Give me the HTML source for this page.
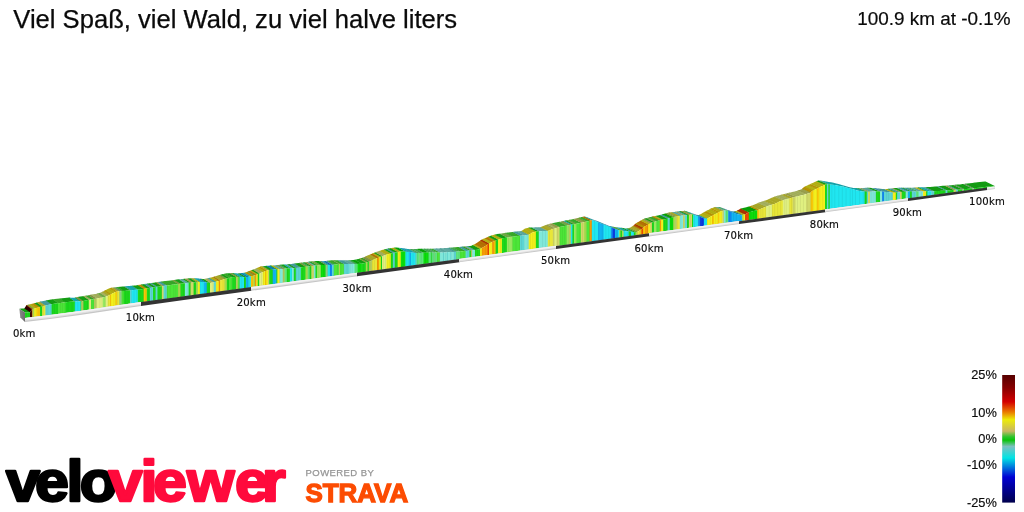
<!DOCTYPE html>
<html lang="de"><head><meta charset="utf-8"><title>Viel Spaß, viel Wald, zu viel halve liters</title>
<style>
html,body{margin:0;padding:0;background:#fff;}
body{width:1024px;height:512px;overflow:hidden;position:relative;font-family:"Liberation Sans",sans-serif;}
svg{position:absolute;left:0;top:0;}
</style></head><body>
<svg width="1024" height="512" viewBox="0 0 1024 512">
<defs>
<linearGradient id="lg" x1="0" y1="0" x2="0.03" y2="1"><stop offset="0" stop-color="#f2f2f2"/><stop offset="1" stop-color="#c4c4c4"/></linearGradient>
<linearGradient id="cap" x1="0" y1="0" x2="1" y2="0"><stop offset="0" stop-color="#8a8a8a"/><stop offset="1" stop-color="#6c6c6c"/></linearGradient>
<linearGradient id="leg" x1="0" y1="0" x2="0" y2="1">
<stop offset="0" stop-color="#560000"/>
<stop offset="0.10" stop-color="#860000"/>
<stop offset="0.21" stop-color="#d40000"/>
<stop offset="0.29" stop-color="#ea7a00"/>
<stop offset="0.35" stop-color="#ecec08"/>
<stop offset="0.44" stop-color="#c8b664"/>
<stop offset="0.485" stop-color="#2cc42c"/>
<stop offset="0.51" stop-color="#08c408"/>
<stop offset="0.56" stop-color="#7cc0c0"/>
<stop offset="0.65" stop-color="#00e4e4"/>
<stop offset="0.80" stop-color="#0000d4"/>
<stop offset="1" stop-color="#00004c"/>
</linearGradient>
</defs>
<text x="13.3" y="27.5" font-family="'Liberation Sans',sans-serif" font-size="25.6" fill="#0a0a0a" stroke="#0a0a0a" stroke-width="0.25">Viel Spaß, viel Wald, zu viel halve liters</text>
<text x="1010.6" y="24.7" text-anchor="end" font-family="'Liberation Sans',sans-serif" font-size="18.9" fill="#0a0a0a" stroke="#0a0a0a" stroke-width="0.2">100.9 km at -0.1%</text>
<g id="topface">
<polygon fill="#149f14" points="25,312.6 27.5,312.5 30,312.3 30.5,311.5 24.9,307.7 24.4,308.5 21.9,308.6 19.4,308.8"/>
<polygon fill="#2c0202" points="30,312.3 32.2,308.9 32.4,308.9 26.8,305.1 26.6,305.1 24.4,308.5"/>
<polygon fill="#ad3302" points="31.9,309.4 32.2,308.9 32.9,308.8 27.3,304.9 26.6,305.1 26.3,305.6"/>
<polygon fill="#7ca23b" points="32.4,308.9 34.6,308.4 29,304.6 26.8,305.1"/>
<polygon fill="#b4b114" points="34.1,308.5 36.6,307.9 37.1,307.8 31.5,304 31,304.1 28.5,304.7"/>
<polygon fill="#b79405" points="36.6,307.9 39.1,307.2 40.5,306.8 34.8,303 33.4,303.4 31,304.1"/>
<polygon fill="#149f14" points="40,307 41,306.7 42.5,306.3 42.8,306.2 37.1,302.4 36.8,302.5 35.3,302.9 34.3,303.2"/>
<polygon fill="#abaa29" points="42.2,306.4 44.8,305.7 45.9,305.4 40.2,301.6 39.1,301.9 36.6,302.6"/>
<polygon fill="#449e9c" points="45.4,305.6 46,305.4 47.9,305 50.4,304.5 51.6,304.2 52.1,304.1 46.4,300.3 45.9,300.4 44.7,300.7 42.2,301.2 40.3,301.6 39.7,301.8"/>
<polygon fill="#149f14" points="51.6,304.2 54.1,303.8 56.6,303.4 57.2,303.2 58.5,303.1 52.8,299.3 51.5,299.4 50.9,299.6 48.4,300 45.9,300.4"/>
<polygon fill="#38aa29" points="58,303.2 60.5,302.9 63,302.6 65.5,302.4 65.9,302.3 60.1,298.5 59.7,298.5 57.3,298.8 54.8,299.1 52.3,299.4"/>
<polygon fill="#149f14" points="65.4,302.4 66,302.3 67.9,302.1 70.4,301.8 72.9,301.6 74.8,301.4 75.2,301.4 69.5,297.6 69,297.6 67.1,297.8 64.6,298 62.1,298.3 60.2,298.5 59.7,298.6"/>
<polygon fill="#17aab1" points="74.8,301.4 77.2,301.5 79.8,301.6 80,301.6 81.1,301.4 75.3,297.6 74.2,297.8 73.9,297.8 71.5,297.7 69,297.6"/>
<polygon fill="#149f14" points="80.6,301.5 81.8,301.3 75.9,297.5 74.8,297.7"/>
<polygon fill="#859645" points="81.2,301.4 83.8,300.8 83.9,300.8 78.1,297 77.9,297 75.4,297.6"/>
<polygon fill="#149f14" points="83.4,300.9 85.9,300.4 86.2,300.3 88.4,300 89.2,299.9 83.4,296.1 82.6,296.2 80.4,296.5 80.1,296.6 77.6,297.1"/>
<polygon fill="#a5b15e" points="88.8,299.9 91.2,299.6 91.5,299.5 85.7,295.7 85.4,295.8 82.9,296.1"/>
<polygon fill="#38aa29" points="91,299.6 92.5,299.4 93.5,299.2 94.5,299 88.6,295.2 87.6,295.4 86.6,295.6 85.2,295.8"/>
<polygon fill="#859645" points="94,299.1 96.5,298.6 97,298.5 91.1,294.7 90.6,294.8 88.1,295.3"/>
<polygon fill="#a5b15e" points="96.5,298.6 97.5,298.4 99,298.1 101.5,297.7 102.5,297.5 103.3,297.3 97.4,293.5 96.6,293.7 95.6,293.9 93.1,294.3 91.6,294.6 90.6,294.8"/>
<polygon fill="#6fab47" points="102.8,297.4 105.3,296.8 106.1,296.6 100.2,292.8 99.4,293 96.9,293.6"/>
<polygon fill="#a5b15e" points="105.6,296.8 106.2,296.6 108.1,295.7 108.3,295.6 102.4,291.7 102.2,291.8 100.3,292.8 99.7,292.9"/>
<polygon fill="#abaa29" points="107.8,295.8 110,294.7 110.3,294.5 110.5,294.4 104.6,290.6 104.4,290.7 104.1,290.9 101.9,292"/>
<polygon fill="#b79405" points="110,294.7 111.5,293.9 105.6,290.1 104.1,290.9"/>
<polygon fill="#b4b114" points="111,294.2 113.5,292.9 113.8,292.8 116,291.9 116.1,291.9 110.2,288.1 110.1,288.1 107.8,289 107.6,289.1 105.1,290.4"/>
<polygon fill="#b79405" points="115.6,292.1 116.9,291.6 117.4,291.5 111.5,287.7 111,287.8 109.7,288.3"/>
<polygon fill="#abaa29" points="116.9,291.6 119.4,291.3 119.9,291.3 113.9,287.4 113.4,287.5 111,287.8"/>
<polygon fill="#679661" points="119.4,291.3 120,291.2 121.9,291.1 122.1,291.1 116.1,287.2 115.9,287.2 114,287.4 113.4,287.5"/>
<polygon fill="#38aa29" points="121.6,291.1 124.1,290.9 124.2,290.8 118.3,287 118.1,287 115.6,287.3"/>
<polygon fill="#149f14" points="123.8,290.9 126.2,290.7 128.8,290.4 130,290.3 130.5,290.3 124.5,286.4 124,286.5 122.8,286.6 120.3,286.8 117.8,287.1"/>
<polygon fill="#449e9c" points="130,290.3 132,290.1 126,286.3 124,286.5"/>
<polygon fill="#17aab1" points="131.5,290.2 134,289.9 136.2,289.7 136.5,289.7 138.3,289.5 132.3,285.7 130.5,285.8 130.2,285.9 128,286.1 125.5,286.3"/>
<polygon fill="#149f14" points="137.8,289.6 140.3,289.3 141.5,289.2 142.8,289 144.1,288.8 138.1,285 136.8,285.2 135.5,285.4 134.3,285.5 131.8,285.7"/>
<polygon fill="#b79405" points="143.6,288.9 146.1,288.5 147.2,288.3 141.2,284.5 140.1,284.7 137.6,285.1"/>
<polygon fill="#149f14" points="146.8,288.4 149.2,288 150.4,287.9 144.3,284 143.2,284.2 140.7,284.6"/>
<polygon fill="#449e9c" points="149.9,287.9 152.4,287.6 153.5,287.4 147.4,283.6 146.3,283.7 143.8,284.1"/>
<polygon fill="#149f14" points="153,287.5 155.5,287.1 155.6,287.1 156,287 149.9,283.2 149.5,283.3 149.4,283.3 146.9,283.7"/>
<polygon fill="#449e9c" points="155.5,287.1 155.6,287.1 157.9,286.8 151.8,282.9 149.5,283.3 149.4,283.3"/>
<polygon fill="#149f14" points="157.4,286.8 159.9,286.5 162.2,286.2 156.1,282.3 153.8,282.7 151.3,283"/>
<polygon fill="#999f4c" points="161.8,286.2 164.1,285.9 158,282.1 155.6,282.4"/>
<polygon fill="#449e9c" points="163.6,286 166.1,285.6 167.2,285.5 161.1,281.6 160,281.8 157.5,282.1"/>
<polygon fill="#38aa29" points="166.8,285.5 169.2,285.2 171.2,284.9 171.8,284.8 174.2,284.5 176.8,284.2 178.5,284 172.3,280.2 170.6,280.4 168.1,280.7 165.6,281 165.1,281.1 163.1,281.3 160.6,281.7"/>
<polygon fill="#7ca23b" points="178,284.1 180.5,283.8 181,283.7 174.8,279.9 174.3,279.9 171.8,280.2"/>
<polygon fill="#149f14" points="180.5,283.8 183,283.5 185.4,283.2 179.2,279.3 176.8,279.6 174.3,279.9"/>
<polygon fill="#5eaba1" points="184.9,283.2 186.9,283 187.4,283 189.1,282.8 182.9,278.9 181.2,279.1 180.7,279.2 178.7,279.4"/>
<polygon fill="#149f14" points="188.6,282.8 191,282.6 184.8,278.8 182.4,279"/>
<polygon fill="#999f4c" points="190.5,282.7 193,282.4 194.1,282.3 187.9,278.5 186.8,278.6 184.3,278.8"/>
<polygon fill="#149f14" points="193.6,282.4 196.1,282.1 196.2,282.1 196.6,282.1 190.4,278.3 190,278.3 189.9,278.3 187.4,278.5"/>
<polygon fill="#7ca23b" points="196.1,282.1 196.2,282.1 198.5,282.1 192.3,278.3 190,278.3 189.9,278.3"/>
<polygon fill="#b4b114" points="198,282.1 200.4,282.1 194.1,278.3 191.8,278.3"/>
<polygon fill="#17aab1" points="199.9,282.1 202.4,282.1 203,282.1 204.5,282.3 198.2,278.5 196.7,278.3 196.1,278.3 193.7,278.3"/>
<polygon fill="#0d85b3" points="204,282.3 206.5,282.5 207.3,282.6 201,278.8 200.2,278.7 197.7,278.4"/>
<polygon fill="#149f14" points="206.8,282.5 209.3,282.8 210.2,282.9 210.5,282.8 204.2,279 204,279.1 203,279 200.5,278.7"/>
<polygon fill="#a5b15e" points="210,282.9 210.2,282.9 212.5,282.4 214.2,282.1 207.9,278.2 206.2,278.6 204,279.1 203.7,279"/>
<polygon fill="#449e9c" points="213.7,282.2 216.2,281.7 216.4,281.6 210.1,277.8 209.9,277.8 207.4,278.3"/>
<polygon fill="#b4b114" points="215.9,281.7 216.5,281.6 218.4,281 219.2,280.8 212.9,277 212.1,277.2 210.2,277.8 209.6,277.9"/>
<polygon fill="#b57104" points="218.7,281 219.6,280.7 220.5,280.4 214.2,276.6 213.3,276.9 212.4,277.1"/>
<polygon fill="#abaa29" points="220,280.6 222.5,279.8 225,279.1 225.1,279 218.8,275.2 218.7,275.2 216.2,276 213.7,276.7"/>
<polygon fill="#7ca23b" points="224.6,279.2 225.9,278.8 227.1,278.5 227.3,278.4 220.9,274.6 220.7,274.7 219.6,275 218.3,275.3"/>
<polygon fill="#149f14" points="226.8,278.6 229.3,277.9 229.5,277.9 223.1,274.1 222.9,274.1 220.5,274.7"/>
<polygon fill="#38aa29" points="229,278 231.5,277.4 232.1,277.2 232.6,277.2 226.2,273.4 225.7,273.4 225.1,273.6 222.6,274.2"/>
<polygon fill="#149f14" points="232.1,277.2 234.6,277.1 236.4,277 230,273.2 228.2,273.3 225.7,273.4"/>
<polygon fill="#859645" points="235.9,277 238.2,276.9 231.9,273.1 229.5,273.2"/>
<polygon fill="#38aa29" points="237.8,276.9 238.4,276.9 240.1,277 233.7,273.1 232,273 231.4,273.1"/>
<polygon fill="#17aab1" points="239.6,277 242.1,277.1 244.5,277.2 238.1,273.4 235.7,273.3 233.2,273.1"/>
<polygon fill="#149f14" points="244,277.2 244.6,277.2 246.4,277.1 240,273.2 238.2,273.4 237.6,273.4"/>
<polygon fill="#0d85b3" points="245.9,277.1 248.4,276.9 249,276.8 242.6,272.9 242,273 239.5,273.3"/>
<polygon fill="#17aab1" points="248.5,276.8 250.9,276.6 251,276.6 251.4,276.4 245,272.6 244.6,272.7 244.5,272.7 242.1,273"/>
<polygon fill="#b79405" points="250.9,276.6 253.4,275.7 253.9,275.5 247.5,271.7 247,271.9 244.5,272.7"/>
<polygon fill="#7ca23b" points="253.4,275.7 255.4,275 248.9,271.1 247,271.9"/>
<polygon fill="#b57104" points="254.9,275.2 256.7,274.5 250.2,270.7 248.4,271.3"/>
<polygon fill="#b4b114" points="256.2,274.7 257.1,274.4 258.2,273.9 251.8,270.1 250.6,270.5 249.7,270.9"/>
<polygon fill="#149f14" points="257.8,274.1 259.8,273.3 253.3,269.5 251.3,270.3"/>
<polygon fill="#a5b15e" points="259.3,273.5 261.8,272.5 263.2,272 256.8,268.1 255.3,268.7 252.8,269.7"/>
<polygon fill="#b4b114" points="262.8,272.2 263.4,271.9 265.2,271.2 265.5,271.1 259,267.2 258.8,267.3 256.9,268 256.3,268.3"/>
<polygon fill="#b79405" points="265,271.3 267,270.5 260.5,266.6 258.5,267.4"/>
<polygon fill="#b4b114" points="266.5,270.7 267.8,270.2 268.5,270.1 262,266.3 261.2,266.3 260,266.8"/>
<polygon fill="#999f4c" points="268,270.2 269.8,270 263.2,266.2 261.5,266.3"/>
<polygon fill="#149f14" points="269.2,270.1 271.8,269.8 273.2,269.7 266.7,265.8 265.2,266 262.7,266.2"/>
<polygon fill="#0d85b3" points="272.7,269.7 274.2,269.6 275.2,269.5 276.9,269.5 270.4,265.6 268.7,265.7 267.7,265.7 266.2,265.9"/>
<polygon fill="#149f14" points="276.4,269.5 277.9,269.4 271.4,265.5 269.9,265.6"/>
<polygon fill="#b4b114" points="277.4,269.4 279.9,269.3 280.1,269.3 273.6,265.4 273.4,265.4 270.9,265.6"/>
<polygon fill="#5eaba1" points="279.6,269.3 280.5,269.2 282.1,269.1 283.2,269 276.6,265.1 275.5,265.2 274,265.4 273.1,265.4"/>
<polygon fill="#859645" points="282.7,269 285.1,268.8 278.5,264.9 276.1,265.2"/>
<polygon fill="#44aa5b" points="284.6,268.8 286.8,268.6 287.1,268.6 287.2,268.6 280.7,264.7 280.5,264.7 280.2,264.7 278,265"/>
<polygon fill="#149f14" points="286.8,268.6 289.2,268.5 290.4,268.4 283.8,264.6 282.7,264.6 280.2,264.7"/>
<polygon fill="#17aab1" points="289.9,268.4 292.4,268.3 292.5,268.3 285.9,264.5 285.8,264.5 283.3,264.6"/>
<polygon fill="#5eaba1" points="292,268.3 293,268.3 294.4,268.2 287.8,264.3 286.4,264.4 285.4,264.5"/>
<polygon fill="#149f14" points="293.9,268.2 296.3,268 289.7,264.1 287.3,264.4"/>
<polygon fill="#449e9c" points="295.8,268 298.3,267.8 299.2,267.7 300.8,267.5 301.3,267.4 294.7,263.5 294.2,263.6 292.6,263.8 291.7,263.9 289.2,264.2"/>
<polygon fill="#149f14" points="300.8,267.5 303.3,267.1 305.5,266.8 305.8,266.7 306,266.7 299.4,262.8 299.2,262.9 298.9,262.9 296.7,263.2 294.2,263.6"/>
<polygon fill="#7ca23b" points="305.5,266.8 308,266.5 308.2,266.5 301.5,262.6 301.3,262.6 298.9,262.9"/>
<polygon fill="#44aa5b" points="307.7,266.5 310.1,266.3 303.4,262.4 301.1,262.7"/>
<polygon fill="#149f14" points="309.6,266.3 311.8,266.1 311.9,266.1 305.2,262.2 305.1,262.2 302.9,262.5"/>
<polygon fill="#999f4c" points="311.4,266.1 311.8,266.1 313.9,265.8 314.4,265.7 307.7,261.9 307.2,261.9 305.1,262.2 304.7,262.3"/>
<polygon fill="#5eaba1" points="313.9,265.8 316,265.5 309.3,261.6 307.2,261.9"/>
<polygon fill="#149f14" points="315.5,265.6 317.5,265.3 310.8,261.4 308.8,261.7"/>
<polygon fill="#6fab47" points="317,265.3 318,265.2 319.5,265.1 321.3,265 314.6,261.2 312.8,261.3 311.3,261.3 310.3,261.5"/>
<polygon fill="#08a408" points="320.8,265.1 323.3,264.9 324.2,264.9 325.8,264.9 326,265 319.3,261.1 319.1,261.1 317.5,261 316.6,261.1 314.1,261.2"/>
<polygon fill="#679661" points="325.5,264.9 328,265 328.2,265 321.5,261.1 321.3,261.1 318.8,261.1"/>
<polygon fill="#17aab1" points="327.7,265 330.2,265.1 330.4,265.1 323.7,261.2 323.5,261.2 321,261.1"/>
<polygon fill="#0b64b1" points="329.9,265.1 331,265.1 332.4,264.9 332.5,264.9 325.8,261 325.7,261 324.3,261.2 323.2,261.2"/>
<polygon fill="#449e9c" points="332,265 334.4,264.6 327.7,260.8 325.3,261.1"/>
<polygon fill="#38aa29" points="333.9,264.7 336.4,264.4 338.2,264.1 338.9,264.1 339.4,264.1 332.6,260.2 332.1,260.2 331.5,260.2 329.6,260.5 327.2,260.8"/>
<polygon fill="#859645" points="338.9,264.1 340.5,264.1 333.7,260.2 332.1,260.2"/>
<polygon fill="#38aa29" points="340,264.1 342.5,264.1 344.4,264.1 337.6,260.2 335.7,260.2 333.2,260.2"/>
<polygon fill="#449e9c" points="343.9,264.1 344.5,264.1 346.4,264.1 348.9,264.1 350,264.1 343.2,260.2 342.1,260.2 339.6,260.2 337.7,260.2 337.1,260.2"/>
<polygon fill="#5eaba1" points="349.5,264.1 350.8,264.1 352,264.1 354.5,264.1 355,264.1 348.2,260.2 347.7,260.2 345.2,260.2 343.9,260.2 342.7,260.2"/>
<polygon fill="#44aa5b" points="354.5,264.1 357,264.1 358.1,264 351.3,260.1 350.2,260.2 347.7,260.2"/>
<polygon fill="#08a408" points="357.6,264 360.1,263.8 361.9,263.6 355,259.7 353.3,259.9 350.8,260.2"/>
<polygon fill="#149f14" points="361.4,263.6 363.2,263.4 363.9,263.2 366.2,262.5 359.4,258.7 357,259.3 356.4,259.5 354.6,259.7"/>
<polygon fill="#7ca23b" points="365.8,262.7 368.1,262 361.2,258.1 358.9,258.8"/>
<polygon fill="#149f14" points="367.6,262.1 369.4,261.6 362.5,257.7 360.7,258.3"/>
<polygon fill="#859645" points="368.9,261.8 369.5,261.6 371.4,260.7 372.5,260.2 365.6,256.4 364.5,256.9 362.6,257.7 362,257.9"/>
<polygon fill="#abaa29" points="372,260.5 374.5,259.3 375.8,258.8 377,258.2 377.5,258.1 370.6,254.2 370.1,254.4 368.8,254.9 367.6,255.4 365.1,256.6"/>
<polygon fill="#b57104" points="377,258.2 379.4,257.3 372.5,253.4 370.1,254.4"/>
<polygon fill="#b4b114" points="378.9,257.5 381.2,256.6 374.3,252.7 372,253.6"/>
<polygon fill="#149f14" points="380.8,256.8 382,256.2 382.5,256.1 375.6,252.2 375.1,252.4 373.8,252.9"/>
<polygon fill="#a5b15e" points="382,256.2 384.5,255.4 386.9,254.6 380,250.7 377.6,251.5 375.1,252.4"/>
<polygon fill="#b4b114" points="386.4,254.7 388.2,254.1 388.9,253.9 391.2,253.4 384.3,249.5 381.9,250.1 381.3,250.2 379.5,250.9"/>
<polygon fill="#149f14" points="390.8,253.5 393.2,252.9 393.4,252.9 386.4,249 386.3,249 383.8,249.6"/>
<polygon fill="#449e9c" points="392.9,253 395,252.5 395.3,252.5 388.3,248.6 388,248.6 385.9,249.1"/>
<polygon fill="#149f14" points="394.8,252.5 395,252.5 397.3,252.2 398.1,252 391.1,248.1 390.3,248.3 388,248.6 387.8,248.7"/>
<polygon fill="#b4b114" points="397.6,252.1 400.1,251.7 401.2,251.6 394.2,247.7 393.1,247.8 390.6,248.2"/>
<polygon fill="#08a408" points="400.7,251.6 402.2,251.4 403.2,251.5 405.7,251.7 405.9,251.8 398.9,247.9 398.7,247.8 396.2,247.6 395.2,247.5 393.7,247.7"/>
<polygon fill="#17aab1" points="405.4,251.7 407.9,251.9 408.5,252 409.6,252.2 402.6,248.3 401.5,248.1 400.9,248.1 398.4,247.8"/>
<polygon fill="#0d85b3" points="409.1,252.1 411.5,252.4 404.5,248.5 402.1,248.2"/>
<polygon fill="#17aab1" points="411,252.4 413.5,252.7 414.8,252.9 415.9,252.9 408.8,249 407.7,249 406.5,248.8 404,248.5"/>
<polygon fill="#449e9c" points="415.4,252.9 417.1,252.9 410,249 408.4,249"/>
<polygon fill="#44aa5b" points="416.6,252.9 419.1,252.9 419.5,252.9 412.4,249 412,249 409.5,249"/>
<polygon fill="#679661" points="419,252.9 420.1,252.9 413,249 411.9,249"/>
<polygon fill="#44aa5b" points="419.6,252.9 421,252.9 422.1,252.8 424,252.8 416.9,248.9 415,249 413.9,249 412.5,249"/>
<polygon fill="#08a408" points="423.5,252.8 426,252.7 427.2,252.6 428.5,252.6 429,252.6 421.9,248.7 421.4,248.7 420.2,248.7 418.9,248.8 416.4,248.9"/>
<polygon fill="#44aa5b" points="428.5,252.6 431,252.6 431.5,252.6 424.4,248.7 423.9,248.7 421.4,248.7"/>
<polygon fill="#149f14" points="431,252.6 432.1,252.6 425,248.7 423.9,248.7"/>
<polygon fill="#44aa5b" points="431.6,252.6 433.5,252.6 434.1,252.6 434.5,252.6 427.4,248.7 427,248.7 426.4,248.7 424.5,248.7"/>
<polygon fill="#679661" points="434,252.6 435.1,252.6 428,248.7 426.9,248.7"/>
<polygon fill="#44aa5b" points="434.6,252.6 437.1,252.6 437.5,252.6 430.4,248.7 430,248.7 427.5,248.7"/>
<polygon fill="#38aa29" points="437,252.6 439.5,252.6 439.8,252.6 440.2,252.6 433.1,248.7 432.6,248.7 432.4,248.7 429.9,248.7"/>
<polygon fill="#5eaba1" points="439.8,252.6 442.2,252.5 443.5,252.4 436.3,248.5 435.1,248.6 432.6,248.7"/>
<polygon fill="#449e9c" points="443,252.4 444.1,252.4 436.9,248.5 435.8,248.5"/>
<polygon fill="#5eaba1" points="443.6,252.4 446,252.3 446.1,252.3 447.5,252.2 440.3,248.3 438.9,248.4 438.8,248.4 436.4,248.5"/>
<polygon fill="#449e9c" points="447,252.3 448.1,252.2 440.9,248.3 439.8,248.4"/>
<polygon fill="#5eaba1" points="447.6,252.2 450.1,252.1 451,252.1 443.8,248.2 442.9,248.2 440.4,248.3"/>
<polygon fill="#449e9c" points="450.5,252.1 451.6,252 444.4,248.1 443.3,248.2"/>
<polygon fill="#5eaba1" points="451.1,252.1 452.2,252 453.6,251.9 454.5,251.8 447.3,247.9 446.4,248 445.1,248.1 443.9,248.2"/>
<polygon fill="#449e9c" points="454,251.9 456.5,251.7 449.3,247.8 446.8,248"/>
<polygon fill="#44aa5b" points="456,251.7 458.5,251.5 459,251.5 460.5,251.4 453.3,247.5 451.8,247.6 451.3,247.6 448.8,247.8"/>
<polygon fill="#38aa29" points="460,251.4 462.5,251.2 465,251 466.1,250.9 458.9,247 457.8,247.1 455.3,247.3 452.8,247.5"/>
<polygon fill="#449e9c" points="465.6,251 466.2,250.9 468.1,250.7 469.9,250.5 462.6,246.6 460.9,246.8 459,247 458.4,247.1"/>
<polygon fill="#149f14" points="469.4,250.6 471.5,250.4 464.2,246.5 462.2,246.7"/>
<polygon fill="#859645" points="471,250.4 472.5,250.2 472.7,250.2 465.4,246.4 465.2,246.4 463.7,246.5"/>
<polygon fill="#5eaba1" points="472.2,250.3 472.5,250.2 474.7,250 475.5,249.9 468.2,246.1 467.4,246.1 465.2,246.4 464.9,246.4"/>
<polygon fill="#149f14" points="475,250 477.5,249.7 478.8,249.6 480,249 480.5,248.8 473.2,244.9 472.7,245.1 471.5,245.7 470.2,245.9 467.7,246.1"/>
<polygon fill="#b4b114" points="480,249 481.9,248.1 482.4,247.8 475.1,243.9 474.6,244.2 472.7,245.1"/>
<polygon fill="#b57104" points="481.9,248.1 484.4,246.6 485,246.2 486.9,244.9 488,244.1 480.7,240.2 479.6,241 477.7,242.3 477.1,242.7 474.6,244.2"/>
<polygon fill="#ad3302" points="487.5,244.4 488.1,244 489.5,243.3 482.2,239.4 480.8,240.1 480.2,240.6"/>
<polygon fill="#b4b114" points="489,243.5 491.2,242.4 491.5,242.3 492.7,241.8 485.4,238 484.2,238.4 483.9,238.5 481.7,239.7"/>
<polygon fill="#b57104" points="492.2,242 494.5,241.1 487.2,237.2 484.9,238.2"/>
<polygon fill="#b79405" points="494,241.3 495,240.9 496.1,240.4 488.8,236.6 487.7,237 486.7,237.4"/>
<polygon fill="#149f14" points="495.6,240.6 498.1,239.6 498.6,239.4 491.2,235.5 490.7,235.7 488.3,236.8"/>
<polygon fill="#b4b114" points="498.1,239.6 498.8,239.3 500.6,238.9 502.4,238.4 495,234.6 493.2,235 491.4,235.4 490.7,235.7"/>
<polygon fill="#149f14" points="501.9,238.5 503.8,238.1 504.4,238 506.9,237.6 507.4,237.5 500,233.7 499.5,233.7 497,234.1 496.4,234.2 494.5,234.7"/>
<polygon fill="#6fab47" points="506.9,237.6 509.4,237.2 510,237.1 511.9,236.8 513,236.7 505.6,232.8 504.5,233 502.6,233.3 502,233.4 499.5,233.7"/>
<polygon fill="#38aa29" points="512.5,236.7 515,236.4 516.2,236.2 517.5,236.1 520,235.8 520.5,235.7 513.1,231.9 512.6,231.9 510.1,232.2 508.8,232.4 507.6,232.5 505.1,232.9"/>
<polygon fill="#449e9c" points="520,235.8 522.5,235.5 523,235.4 524.5,235.2 517,231.4 515.6,231.6 515.1,231.6 512.6,231.9"/>
<polygon fill="#5eaba1" points="524,235.3 526.5,235.1 529,234.8 529.2,234.7 521.7,230.8 521.5,231 519,231.2 516.5,231.5"/>
<polygon fill="#b4b114" points="528.7,234.8 529,234.8 531.2,233.2 532.1,232.6 533.7,232.2 536.2,231.5 536.4,231.4 528.9,227.6 528.7,227.7 526.2,228.3 524.6,228.8 523.7,229.4 521.5,231 521.2,231"/>
<polygon fill="#149f14" points="535.9,231.6 536.5,231.4 538.4,231.3 539.2,231.3 531.7,227.5 530.9,227.5 529,227.6 528.4,227.7"/>
<polygon fill="#5eaba1" points="538.7,231.3 541.2,231.2 542.8,231.1 543.7,231.1 546.2,231.1 547.8,231.1 548.2,230.9 540.7,227.1 540.2,227.3 538.7,227.3 536.2,227.3 535.2,227.3 533.7,227.4 531.2,227.5"/>
<polygon fill="#abaa29" points="547.8,231.1 550.2,230 552.1,229.2 552.8,229 553.2,228.9 545.7,225 545.2,225.2 544.5,225.4 542.7,226.2 540.2,227.3"/>
<polygon fill="#999f4c" points="552.8,229 555.1,228.3 547.5,224.5 545.2,225.2"/>
<polygon fill="#a5b15e" points="554.6,228.4 557,227.7 549.4,223.9 547,224.6"/>
<polygon fill="#999f4c" points="556.5,227.9 558.4,227.3 559,227.2 560.1,227 552.5,223.2 551.4,223.4 550.8,223.5 548.9,224.1"/>
<polygon fill="#38aa29" points="559.6,227.1 562.1,226.6 564.6,226.1 567,225.6 559.4,221.8 557,222.3 554.5,222.8 552,223.3"/>
<polygon fill="#6fab47" points="566.5,225.7 569,225.2 569.5,225.1 561.9,221.3 561.4,221.4 558.9,221.9"/>
<polygon fill="#859645" points="569,225.2 570.9,224.8 571.4,224.7 563.8,220.9 563.3,221 561.4,221.4"/>
<polygon fill="#17aab1" points="570.9,224.8 572.9,224.4 565.3,220.6 563.3,221"/>
<polygon fill="#149f14" points="572.4,224.5 574.5,224.1 566.9,220.3 564.8,220.7"/>
<polygon fill="#6fab47" points="574,224.2 576.5,223.7 577,223.6 569.4,219.8 568.9,219.9 566.4,220.4"/>
<polygon fill="#38aa29" points="576.5,223.7 577.1,223.6 579,223.2 581.4,222.7 573.7,218.9 571.3,219.4 569.5,219.8 568.9,219.9"/>
<polygon fill="#999f4c" points="580.9,222.8 583.4,222.3 584.5,222 576.8,218.3 575.7,218.5 573.2,219"/>
<polygon fill="#7ca23b" points="584,222.2 586.5,221.5 587,221.4 579.3,217.6 578.8,217.8 576.3,218.4"/>
<polygon fill="#38aa29" points="586.5,221.5 587.9,221.2 589,220.9 590.1,220.6 582.4,216.9 581.3,217.1 580.2,217.4 578.8,217.8"/>
<polygon fill="#b57104" points="589.6,220.8 591.8,220.2 592.1,220.3 592.2,220.3 584.5,216.6 584.4,216.5 584,216.4 581.9,217"/>
<polygon fill="#17aab1" points="591.8,220.2 594.2,220.8 596.8,221.8 598.5,222.5 590.8,218.7 589,218 586.5,217 584,216.4"/>
<polygon fill="#0d85b3" points="598,222.3 600.5,223.3 603,224.2 604.1,224.6 596.4,220.8 595.3,220.4 592.8,219.5 590.3,218.5"/>
<polygon fill="#17aab1" points="603.6,224.4 606.1,225.3 606.8,225.5 608.6,226.3 609.1,226.5 601.3,222.8 600.8,222.6 599,221.7 598.3,221.5 595.9,220.6"/>
<polygon fill="#17aab1" points="608.6,226.3 611.1,227.4 611.6,227.6 603.8,223.9 603.3,223.7 600.8,222.6"/>
<polygon fill="#0b64b1" points="611.1,227.4 611.8,227.7 613.2,228.3 605.4,224.6 604,224 603.3,223.7"/>
<polygon fill="#0829a5" points="612.7,228.1 615.2,229.2 615.4,229.3 607.6,225.5 607.4,225.5 604.9,224.4"/>
<polygon fill="#0d85b3" points="614.9,229.1 616.1,229.6 617.4,229.8 618.5,230.1 610.7,226.3 609.6,226.1 608.3,225.9 607.1,225.3"/>
<polygon fill="#17aab1" points="618,230 619.8,230.3 611.9,226.6 610.2,226.2"/>
<polygon fill="#7ca23b" points="619.2,230.2 621,230.5 613.2,226.8 611.4,226.5"/>
<polygon fill="#149f14" points="620.5,230.4 622.4,230.8 622.5,230.8 614.7,227.1 614.6,227.1 612.7,226.7"/>
<polygon fill="#7ca23b" points="622,230.7 622.4,230.8 624.1,231 616.3,227.2 614.6,227.1 614.2,227"/>
<polygon fill="#17aab1" points="623.6,230.9 626.1,231.2 628.6,231.4 629.1,231.5 621.3,227.7 620.8,227.7 618.3,227.4 615.8,227.2"/>
<polygon fill="#149f14" points="628.6,231.4 631.1,231.7 631.6,231.8 623.7,228.1 623.3,228 620.8,227.7"/>
<polygon fill="#17aab1" points="631.1,231.7 633.6,232.1 634.4,232.2 626.5,228.5 625.7,228.4 623.3,228"/>
<polygon fill="#149f14" points="633.9,232.2 634.9,232.3 636,232 628.1,228.3 627,228.6 626,228.4"/>
<polygon fill="#7ca23b" points="635.5,232.2 637.9,231.5 630,227.8 627.6,228.4"/>
<polygon fill="#abaa29" points="637.4,231.6 638,231.5 639.9,230.2 641,229.5 633.1,225.8 632,226.5 630.1,227.7 629.5,227.9"/>
<polygon fill="#b57104" points="640.5,229.8 641.1,229.4 642.2,228.4 634.4,224.7 633.2,225.7 632.6,226.1"/>
<polygon fill="#ad3302" points="641.8,228.9 643.5,227.4 635.6,223.7 633.9,225.1"/>
<polygon fill="#b79405" points="643,227.8 644.2,226.8 645.4,226.1 637.5,222.4 636.4,223 635.1,224.1"/>
<polygon fill="#b57104" points="644.9,226.4 647.4,224.9 648.8,224.2 640.9,220.5 639.5,221.2 637,222.7"/>
<polygon fill="#b4b114" points="648.3,224.5 650.5,223.3 650.7,223.2 642.8,219.5 642.6,219.6 640.4,220.8"/>
<polygon fill="#999f4c" points="650.2,223.5 650.5,223.3 652,222.5 652.5,222.4 644.6,218.6 644.1,218.8 642.6,219.6 642.3,219.7"/>
<polygon fill="#149f14" points="652,222.5 654.4,221.8 646.5,218.1 644.1,218.8"/>
<polygon fill="#6fab47" points="653.9,222 656.4,221.2 656.9,221.1 649,217.4 648.5,217.5 646,218.2"/>
<polygon fill="#38aa29" points="656.4,221.2 658.2,220.7 658.9,220.6 660.3,220.3 652.3,216.6 650.9,216.9 650.3,217 648.5,217.5"/>
<polygon fill="#b57104" points="659.8,220.4 661.5,220 653.5,216.3 651.8,216.7"/>
<polygon fill="#b4b114" points="661,220.1 663.5,219.6 663.8,219.6 655.8,215.9 655.5,215.9 653,216.4"/>
<polygon fill="#149f14" points="663.2,219.7 664.5,219.4 665.8,219.1 668.1,218.6 660.1,214.9 657.8,215.4 656.5,215.7 655.3,216"/>
<polygon fill="#449e9c" points="667.6,218.7 670.1,218.1 670.3,218 662.3,214.3 662.1,214.4 659.6,215"/>
<polygon fill="#08a408" points="669.8,218.1 670.8,217.9 672.3,217.5 673.8,217.1 665.7,213.4 664.3,213.8 662.8,214.2 661.8,214.4"/>
<polygon fill="#7ca23b" points="673.2,217.3 675.6,216.7 667.6,213 665.2,213.6"/>
<polygon fill="#859645" points="675.1,216.8 677,216.3 677.2,216.3 669.2,212.6 669,212.6 667.1,213.1"/>
<polygon fill="#abaa29" points="676.7,216.4 677,216.3 679.2,216 680.3,215.8 672.3,212.1 671.2,212.3 669,212.6 668.7,212.7"/>
<polygon fill="#5eaba1" points="679.8,215.9 682.3,215.5 683.2,215.4 683.5,215.4 675.5,211.7 675.2,211.7 674.3,211.9 671.8,212.2"/>
<polygon fill="#999f4c" points="683,215.4 683.2,215.4 685.3,215.2 677.2,211.5 675.2,211.7 675,211.8"/>
<polygon fill="#449e9c" points="684.8,215.3 687.3,215 687.5,215 679.4,211.3 679.2,211.3 676.8,211.6"/>
<polygon fill="#149f14" points="687,215 689.4,214.8 681.3,211.1 678.9,211.4"/>
<polygon fill="#999f4c" points="688.9,214.9 689.5,214.8 691.4,214.6 692.5,214.5 684.4,210.8 683.3,210.9 681.4,211.1 680.8,211.2"/>
<polygon fill="#149f14" points="692,214.5 692.6,214.4 693.8,214.8 685.7,211.1 684.5,210.8 683.9,210.8"/>
<polygon fill="#17aab1" points="693.2,214.6 695.8,215.4 698.2,216.2 698.8,216.4 690.6,212.7 690.2,212.5 687.7,211.7 685.2,211"/>
<polygon fill="#0b64b1" points="698.2,216.2 699.5,216.6 700.6,217.1 692.5,213.4 691.4,212.9 690.2,212.5"/>
<polygon fill="#0829a5" points="700.1,216.9 702.6,217.9 703.9,218.5 704.4,218.5 696.3,214.9 695.8,214.8 694.5,214.3 692,213.2"/>
<polygon fill="#17aab1" points="703.9,218.5 706.4,218.7 707,218.8 707.5,218.5 699.4,214.8 698.9,215.1 698.3,215.1 695.8,214.8"/>
<polygon fill="#b4b114" points="707,218.8 709.5,217.3 710.8,216.6 712,215.9 712.5,215.7 704.3,212 703.8,212.3 702.6,212.9 701.4,213.7 698.9,215.1"/>
<polygon fill="#b79405" points="712,215.9 714.5,214.6 706.3,210.9 703.8,212.3"/>
<polygon fill="#b4b114" points="714,214.8 715,214.3 716.5,213.5 718.4,212.5 710.2,208.9 708.3,209.9 706.8,210.6 705.8,211.2"/>
<polygon fill="#b79405" points="717.9,212.8 719.8,211.8 719.9,211.7 711.7,208.1 711.6,208.2 709.7,209.1"/>
<polygon fill="#b4b114" points="719.4,212 719.8,211.8 721.9,211.1 722.8,210.8 714.6,207.1 713.7,207.4 711.6,208.2 711.2,208.3"/>
<polygon fill="#999f4c" points="722.2,210.9 723.5,210.5 724.3,210.5 716.1,206.9 715.3,206.9 714.1,207.3"/>
<polygon fill="#5eaba1" points="723.8,210.5 725.9,210.6 717.7,207 715.6,206.9"/>
<polygon fill="#44aa5b" points="725.4,210.6 727.9,210.8 728.5,210.8 728.7,210.9 720.5,207.2 720.3,207.2 719.7,207.1 717.2,207"/>
<polygon fill="#0b64b1" points="728.2,210.8 728.5,210.8 730.7,211.7 732.1,212.2 723.9,208.6 722.5,208 720.3,207.2 720,207.1"/>
<polygon fill="#0d85b3" points="731.6,212 734.1,213 734.8,213.3 736.6,213.9 737.1,214 728.9,210.4 728.4,210.2 726.5,209.7 725.9,209.4 723.4,208.4"/>
<polygon fill="#0d85b3" points="736.6,213.9 739.1,214.6 741,215.2 741.6,215.1 742.5,215 734.2,211.3 733.3,211.5 732.7,211.6 730.8,211 728.4,210.2"/>
<polygon fill="#7ca23b" points="742,215 744,214.7 735.7,211.1 733.7,211.4"/>
<polygon fill="#b4b114" points="743.5,214.8 744.8,214.6 745.5,214.2 737.2,210.5 736.5,211 735.2,211.2"/>
<polygon fill="#ad3302" points="745,214.5 747.5,213 748.5,212.4 749.3,212.2 741,208.6 740.2,208.8 739.2,209.4 736.7,210.8"/>
<polygon fill="#08a408" points="748.8,212.3 751.3,211.7 753.5,211.1 753.8,211 756.3,210.4 757.2,210.2 757.8,210 749.4,206.4 748.9,206.6 748,206.8 745.5,207.4 745.2,207.5 743,208.1 740.5,208.7"/>
<polygon fill="#b79405" points="757.2,210.2 759.6,209.3 751.3,205.7 748.9,206.6"/>
<polygon fill="#abaa29" points="759.1,209.5 761.6,208.5 762.9,208 764.1,207.5 766.5,206.5 758.1,202.9 755.8,203.9 754.6,204.4 753.3,204.9 750.8,205.9"/>
<polygon fill="#a5b15e" points="766,206.8 768.5,205.7 769.1,205.5 771,204.9 772.5,204.5 764.1,200.9 762.6,201.3 760.7,201.9 760.1,202.1 757.6,203.1"/>
<polygon fill="#abaa29" points="772,204.6 774.5,203.9 775.4,203.6 776.5,203 768.1,199.5 767,200 766.1,200.3 763.6,201"/>
<polygon fill="#abaa29" points="776,203.3 778.5,202 780,201.3 781,201 783.3,200.2 774.9,196.6 772.6,197.4 771.6,197.7 770.1,198.5 767.6,199.7"/>
<polygon fill="#a5b15e" points="782.8,200.4 784.9,199.7 776.5,196.1 774.4,196.8"/>
<polygon fill="#a5b15e" points="784.4,199.8 786.2,199.2 786.9,199 789.4,198.4 789.9,198.3 781.5,194.7 781,194.8 778.5,195.4 777.8,195.6 776,196.2"/>
<polygon fill="#abaa29" points="789.4,198.4 791.9,197.7 792.5,197.6 793,197.5 784.5,193.9 784.1,194 783.5,194.2 781,194.8"/>
<polygon fill="#999f4c" points="792.5,197.6 795,197 796.1,196.7 787.6,193.1 786.5,193.4 784.1,194"/>
<polygon fill="#a5b15e" points="795.6,196.8 798.1,196.2 798.8,196.1 800.6,195.6 803.1,194.9 805,194.4 805.6,194.3 806.8,193.9 798.2,190.3 797.1,190.7 796.5,190.9 794.6,191.4 792.1,192 790.3,192.5 789.6,192.6 787.1,193.3"/>
<polygon fill="#999f4c" points="806.2,194 808.8,193.3 810,192.9 811.1,191.9 802.6,188.4 801.5,189.3 800.2,189.7 797.7,190.5"/>
<polygon fill="#b79405" points="810.6,192.4 812.5,190.7 813.1,190.4 813.6,190.1 805.1,186.6 804.6,186.8 804,187.1 802.1,188.8"/>
<polygon fill="#b4b114" points="813.1,190.4 815.6,189.2 816.2,188.9 817.4,188.3 808.9,184.8 807.7,185.3 807.1,185.6 804.6,186.8"/>
<polygon fill="#b79405" points="816.9,188.6 819.2,187.5 810.7,183.9 808.4,185"/>
<polygon fill="#b4b114" points="818.8,187.7 820.6,186.8 821.2,186.5 823.8,185.4 825,184.8 825.5,184.6 816.9,181.1 816.4,181.3 815.2,181.8 812.7,183 812,183.3 810.2,184.1"/>
<polygon fill="#149f14" points="825,184.8 826.9,184 827.4,184.1 818.8,180.5 818.3,180.5 816.4,181.3"/>
<polygon fill="#449e9c" points="826.9,184 828.9,184.3 820.3,180.7 818.3,180.5"/>
<polygon fill="#149f14" points="828.4,184.2 830,184.4 830.2,184.4 821.6,180.9 821.4,180.8 819.8,180.6"/>
<polygon fill="#17aab1" points="829.7,184.4 830,184.4 832.2,184.7 834.7,185 836.2,185.2 837.2,185.4 839.7,185.9 842.2,186.4 843,186.5 844.7,187 847.2,187.7 849.7,188.3 850.2,188.5 852.2,189.1 854.7,189.8 856.5,190.3 857.2,190.4 859.7,190.9 862.2,191.4 862.8,191.5 864.7,191.6 865.1,191.6 856.4,188.1 856,188.1 854,188 853.5,187.9 851,187.4 848.5,186.9 847.8,186.7 846,186.2 843.5,185.5 841.6,185 841,184.8 838.5,184.1 836.1,183.4 834.4,183 833.6,182.8 831.1,182.3 828.6,181.9 827.6,181.7 826.1,181.5 823.6,181.1 821.4,180.8 821.1,180.8"/>
<polygon fill="#149f14" points="864.6,191.6 867.1,191.7 867.3,191.7 858.6,188.2 858.4,188.2 855.9,188.1"/>
<polygon fill="#449e9c" points="866.8,191.7 868.5,191.8 859.8,188.3 858.1,188.2"/>
<polygon fill="#999f4c" points="868,191.8 869,191.8 870.5,191.7 861.8,188.1 860.3,188.3 859.3,188.3"/>
<polygon fill="#5eaba1" points="870,191.7 872.5,191.5 875,191.2 875.2,191.2 876.4,191.3 867.6,187.8 866.5,187.7 866.2,187.7 863.8,188 861.3,188.2"/>
<polygon fill="#149f14" points="875.9,191.2 878.4,191.4 880.5,191.5 871.7,187.9 869.6,187.8 867.1,187.7"/>
<polygon fill="#5eaba1" points="880,191.4 881.5,191.5 882.5,191.6 882.6,191.6 873.8,188.1 873.7,188.1 872.7,188 871.2,187.9"/>
<polygon fill="#0b64b1" points="882.1,191.6 884.5,191.8 875.7,188.2 873.3,188"/>
<polygon fill="#449e9c" points="884,191.7 886.5,192 887.8,192.1 889,192.2 891.5,192.5 893.2,192.7 884.4,189.1 882.7,188.9 880.2,188.7 878.9,188.5 877.7,188.4 875.2,188.2"/>
<polygon fill="#b4b114" points="892.8,192.7 894,192.8 895.2,192.7 896.4,192.5 887.6,188.9 886.4,189 885.2,189.2 883.9,189"/>
<polygon fill="#149f14" points="895.9,192.6 897.6,192.4 888.8,188.7 887.1,188.9"/>
<polygon fill="#449e9c" points="897.1,192.5 899.6,192.2 900.2,192.1 900.5,192.1 891.7,188.4 891.4,188.4 890.8,188.5 888.3,188.8"/>
<polygon fill="#999f4c" points="900,192.1 900.2,192.1 902.3,191.9 893.4,188.2 891.4,188.4 891.2,188.4"/>
<polygon fill="#149f14" points="901.8,192 904.3,191.8 906.1,191.7 897.2,187.9 895.4,188.1 892.9,188.3"/>
<polygon fill="#5eaba1" points="905.6,191.7 907,191.6 908.1,191.6 908.5,191.6 899.6,187.8 899.2,187.8 898.1,187.8 896.7,188"/>
<polygon fill="#0d85b3" points="908,191.6 910.4,191.6 901.5,187.8 899.1,187.8"/>
<polygon fill="#149f14" points="909.9,191.6 912.2,191.6 903.4,187.8 901,187.8"/>
<polygon fill="#449e9c" points="911.8,191.6 914.2,191.6 916.6,191.6 907.7,187.7 905.3,187.8 902.9,187.8"/>
<polygon fill="#44aa5b" points="916.1,191.6 918.6,191.6 919.1,191.6 910.2,187.7 909.7,187.7 907.2,187.8"/>
<polygon fill="#5eaba1" points="918.6,191.6 920.5,191.6 921.1,191.6 923.5,191.5 914.6,187.5 912.2,187.7 911.6,187.7 909.7,187.7"/>
<polygon fill="#b4b114" points="923,191.5 925.5,191.4 926.6,191.3 917.7,187.4 916.6,187.4 914.1,187.6"/>
<polygon fill="#149f14" points="926.1,191.3 926.8,191.3 927.9,191.3 918.9,187.3 917.8,187.4 917.2,187.4"/>
<polygon fill="#17aab1" points="927.4,191.3 929.9,191.3 931.6,191.3 922.6,187.3 920.9,187.3 918.5,187.3"/>
<polygon fill="#449e9c" points="931.1,191.3 933,191.3 933.6,191.3 934.8,191.2 925.8,187.2 924.6,187.3 924,187.3 922.1,187.3"/>
<polygon fill="#149f14" points="934.2,191.2 936.8,191.1 939.2,190.9 941.8,190.8 944.2,190.7 945.5,190.6 946,190.6 937,186.4 936.5,186.5 935.2,186.6 932.7,186.7 930.3,186.9 927.8,187 925.3,187.2"/>
<polygon fill="#449e9c" points="945.5,190.6 947.9,190.4 938.9,186.2 936.5,186.5"/>
<polygon fill="#149f14" points="947.4,190.4 949.9,190.2 951.8,190 952.4,190 954.1,189.9 945.1,185.7 943.4,185.8 942.7,185.8 940.9,186 938.4,186.3"/>
<polygon fill="#999f4c" points="953.6,189.9 956.1,189.8 956.6,189.8 947.5,185.5 947,185.6 944.6,185.7"/>
<polygon fill="#449e9c" points="956.1,189.8 958,189.7 958.5,189.7 949.4,185.4 948.9,185.5 947,185.6"/>
<polygon fill="#149f14" points="958,189.7 960.5,189.5 962.5,189.3 953.4,185 951.4,185.2 948.9,185.5"/>
<polygon fill="#679661" points="962,189.3 964.2,189.1 964.5,189.1 955.4,184.8 955.2,184.8 952.9,185"/>
<polygon fill="#149f14" points="964,189.1 964.2,189.1 966.5,188.9 969,188.7 970.5,188.6 971.5,188.5 972.5,188.4 963.4,184 962.4,184.1 961.4,184.2 959.9,184.4 957.4,184.6 955.2,184.8 954.9,184.8"/>
<polygon fill="#679661" points="972,188.4 974.5,188.2 965.4,183.8 962.9,184.1"/>
<polygon fill="#149f14" points="974,188.2 976.5,187.9 979,187.7 981.5,187.4 984,187.1 985,187 986.5,186.8 989,186.6 991.5,186.3 994,186.1 994.8,186 985.6,181.4 984.8,181.5 982.3,181.8 979.8,182 977.3,182.3 975.8,182.5 974.8,182.6 972.3,182.9 969.9,183.2 967.4,183.5 964.9,183.8"/>
</g>
<g id="frontface">
<polygon fill="#1cd81c" points="25,312.6 27.5,312.5 30,312.3 30.5,311.5 30.5,317.6 25,318.2"/>
<polygon fill="#3c0404" points="30,312.3 32.2,308.9 32.4,308.9 32.4,317.4 30,317.6"/>
<polygon fill="#ea4604" points="31.9,309.4 32.2,308.9 32.9,308.8 32.9,317.3 31.9,317.4"/>
<polygon fill="#a8dc50" points="32.4,308.9 34.6,308.4 34.6,317.1 32.4,317.4"/>
<polygon fill="#f4f01c" points="34.1,308.5 36.6,307.9 37.1,307.8 37.1,316.9 34.1,317.2"/>
<polygon fill="#f8c808" points="36.6,307.9 39.1,307.2 40.5,306.8 40.5,316.5 36.6,316.9"/>
<polygon fill="#1cd81c" points="40,307 41,306.7 42.5,306.3 42.8,306.2 42.8,316.2 40,316.5"/>
<polygon fill="#e8e638" points="42.2,306.4 44.8,305.7 45.9,305.4 45.9,315.9 42.2,316.3"/>
<polygon fill="#5cd6d4" points="45.4,305.6 46,305.4 47.9,305 50.4,304.5 51.6,304.2 52.1,304.1 52.1,315.1 50,315.4 45.4,315.9"/>
<polygon fill="#1cd81c" points="51.6,304.2 54.1,303.8 56.6,303.4 57.2,303.2 58.5,303.1 58.5,314.2 51.6,315.2"/>
<polygon fill="#4ce638" points="58,303.2 60.5,302.9 63,302.6 65.5,302.4 65.9,302.3 65.9,313.2 58,314.3"/>
<polygon fill="#1cd81c" points="65.4,302.4 66,302.3 67.9,302.1 70.4,301.8 72.9,301.6 74.8,301.4 75.2,301.4 75.2,311.9 65.4,313.3"/>
<polygon fill="#20e6f0" points="74.8,301.4 77.2,301.5 79.8,301.6 80,301.6 81.1,301.4 81.1,311.1 80,311.3 74.8,312"/>
<polygon fill="#1cd81c" points="80.6,301.5 81.8,301.3 81.8,311 80.6,311.2"/>
<polygon fill="#b4cc5e" points="81.2,301.4 83.8,300.8 83.9,300.8 83.9,310.7 81.2,311.1"/>
<polygon fill="#1cd81c" points="83.4,300.9 85.9,300.4 86.2,300.3 88.4,300 89.2,299.9 89.2,309.9 83.4,310.8"/>
<polygon fill="#e0f080" points="88.8,299.9 91.2,299.6 91.5,299.5 91.5,309.6 88.8,310"/>
<polygon fill="#4ce638" points="91,299.6 92.5,299.4 93.5,299.2 94.5,299 94.5,309.1 91,309.6"/>
<polygon fill="#b4cc5e" points="94,299.1 96.5,298.6 97,298.5 97,308.7 94,309.2"/>
<polygon fill="#e0f080" points="96.5,298.6 97.5,298.4 99,298.1 101.5,297.7 102.5,297.5 103.3,297.3 103.3,307.8 96.5,308.8"/>
<polygon fill="#96e860" points="102.8,297.4 105.3,296.8 106.1,296.6 106.1,307.4 102.8,307.9"/>
<polygon fill="#e0f080" points="105.6,296.8 106.2,296.6 108.1,295.7 108.3,295.6 108.3,307.1 105.6,307.5"/>
<polygon fill="#e8e638" points="107.8,295.8 110,294.7 110.3,294.5 110.5,294.4 110.5,306.7 110,306.8 107.8,307.1"/>
<polygon fill="#f8c808" points="110,294.7 111.5,293.9 111.5,306.6 110,306.8"/>
<polygon fill="#f4f01c" points="111,294.2 113.5,292.9 113.8,292.8 116,291.9 116.1,291.9 116.1,306 111,306.7"/>
<polygon fill="#f8c808" points="115.6,292.1 116.9,291.6 117.4,291.5 117.4,305.8 115.6,306"/>
<polygon fill="#e8e638" points="116.9,291.6 119.4,291.3 119.9,291.3 119.9,305.4 116.9,305.8"/>
<polygon fill="#8ccc84" points="119.4,291.3 120,291.2 121.9,291.1 122.1,291.1 122.1,305.1 119.4,305.5"/>
<polygon fill="#4ce638" points="121.6,291.1 124.1,290.9 124.2,290.8 124.2,304.8 121.6,305.2"/>
<polygon fill="#1cd81c" points="123.8,290.9 126.2,290.7 128.8,290.4 130,290.3 130.5,290.3 130.5,303.9 123.8,304.9"/>
<polygon fill="#5cd6d4" points="130,290.3 132,290.1 132,303.7 130,304"/>
<polygon fill="#20e6f0" points="131.5,290.2 134,289.9 136.2,289.7 136.5,289.7 138.3,289.5 138.3,302.8 131.5,303.8"/>
<polygon fill="#1cd81c" points="137.8,289.6 140.3,289.3 141.5,289.2 142.8,289 144.1,288.8 144.1,302 141,302.4 137.8,302.9"/>
<polygon fill="#f8c808" points="143.6,288.9 146.1,288.5 147.2,288.3 147.2,301.6 143.6,302.1"/>
<polygon fill="#1cd81c" points="146.8,288.4 149.2,288 150.4,287.9 150.4,301.1 146.8,301.6"/>
<polygon fill="#5cd6d4" points="149.9,287.9 152.4,287.6 153.5,287.4 153.5,300.7 149.9,301.2"/>
<polygon fill="#1cd81c" points="153,287.5 155.5,287.1 155.6,287.1 156,287 156,300.4 153,300.8"/>
<polygon fill="#5cd6d4" points="155.5,287.1 155.6,287.1 157.9,286.8 157.9,300.1 155.5,300.4"/>
<polygon fill="#1cd81c" points="157.4,286.8 159.9,286.5 162.2,286.2 162.2,299.5 157.4,300.2"/>
<polygon fill="#d0d868" points="161.8,286.2 164.1,285.9 164.1,299.2 161.8,299.6"/>
<polygon fill="#5cd6d4" points="163.6,286 166.1,285.6 167.2,285.5 167.2,298.8 163.6,299.3"/>
<polygon fill="#4ce638" points="166.8,285.5 169.2,285.2 171.2,284.9 171.8,284.8 174.2,284.5 176.8,284.2 178.5,284 178.5,297.3 166.8,298.9"/>
<polygon fill="#a8dc50" points="178,284.1 180.5,283.8 181,283.7 181,296.9 178,297.3"/>
<polygon fill="#1cd81c" points="180.5,283.8 183,283.5 185.4,283.2 185.4,296.3 180.5,297"/>
<polygon fill="#80e8da" points="184.9,283.2 186.9,283 187.4,283 189.1,282.8 189.1,295.8 184.9,296.4"/>
<polygon fill="#1cd81c" points="188.6,282.8 191,282.6 191,295.5 188.6,295.9"/>
<polygon fill="#d0d868" points="190.5,282.7 193,282.4 194.1,282.3 194.1,295.1 190.5,295.6"/>
<polygon fill="#1cd81c" points="193.6,282.4 196.1,282.1 196.2,282.1 196.6,282.1 196.6,294.8 193.6,295.2"/>
<polygon fill="#a8dc50" points="196.1,282.1 196.2,282.1 198.5,282.1 198.5,294.5 196.1,294.8"/>
<polygon fill="#f4f01c" points="198,282.1 200.4,282.1 200.4,294.3 200,294.3 198,294.6"/>
<polygon fill="#20e6f0" points="199.9,282.1 202.4,282.1 203,282.1 204.5,282.3 204.5,293.7 200,294.3 199.9,294.3"/>
<polygon fill="#12b4f2" points="204,282.3 206.5,282.5 207.3,282.6 207.3,293.3 204,293.8"/>
<polygon fill="#1cd81c" points="206.8,282.5 209.3,282.8 210.2,282.9 210.5,282.8 210.5,292.9 206.8,293.4"/>
<polygon fill="#e0f080" points="210,282.9 210.2,282.9 212.5,282.4 214.2,282.1 214.2,292.4 210,293"/>
<polygon fill="#5cd6d4" points="213.7,282.2 216.2,281.7 216.4,281.6 216.4,292.1 213.7,292.5"/>
<polygon fill="#f4f01c" points="215.9,281.7 216.5,281.6 218.4,281 219.2,280.8 219.2,291.7 215.9,292.2"/>
<polygon fill="#f59a06" points="218.7,281 219.6,280.7 220.5,280.4 220.5,291.5 218.7,291.8"/>
<polygon fill="#e8e638" points="220,280.6 222.5,279.8 225,279.1 225.1,279 225.1,290.9 220,291.6"/>
<polygon fill="#a8dc50" points="224.6,279.2 225.9,278.8 227.1,278.5 227.3,278.4 227.3,290.6 224.6,291"/>
<polygon fill="#1cd81c" points="226.8,278.6 229.3,277.9 229.5,277.9 229.5,290.3 226.8,290.7"/>
<polygon fill="#4ce638" points="229,278 231.5,277.4 232.1,277.2 232.6,277.2 232.6,289.9 229,290.4"/>
<polygon fill="#1cd81c" points="232.1,277.2 234.6,277.1 236.4,277 236.4,289.4 232.1,290"/>
<polygon fill="#b4cc5e" points="235.9,277 238.2,276.9 238.2,289.1 235.9,289.5"/>
<polygon fill="#4ce638" points="237.8,276.9 238.4,276.9 240.1,277 240.1,288.9 237.8,289.2"/>
<polygon fill="#20e6f0" points="239.6,277 242.1,277.1 244.5,277.2 244.5,288.3 239.6,289"/>
<polygon fill="#1cd81c" points="244,277.2 244.6,277.2 246.4,277.1 246.4,288 244,288.4"/>
<polygon fill="#12b4f2" points="245.9,277.1 248.4,276.9 249,276.8 249,287.7 245.9,288.1"/>
<polygon fill="#20e6f0" points="248.5,276.8 250.9,276.6 251,276.6 251.4,276.4 251.4,287.4 248.5,287.8"/>
<polygon fill="#f8c808" points="250.9,276.6 253.4,275.7 253.9,275.5 253.9,287 250.9,287.4"/>
<polygon fill="#a8dc50" points="253.4,275.7 255.4,275 255.4,286.8 253.4,287.1"/>
<polygon fill="#f59a06" points="254.9,275.2 256.7,274.5 256.7,286.6 254.9,286.9"/>
<polygon fill="#f4f01c" points="256.2,274.7 257.1,274.4 258.2,273.9 258.2,286.4 256.2,286.7"/>
<polygon fill="#1cd81c" points="257.8,274.1 259.8,273.3 259.8,286.2 257.8,286.5"/>
<polygon fill="#e0f080" points="259.3,273.5 261.8,272.5 263.2,272 263.2,285.8 259.3,286.3"/>
<polygon fill="#f4f01c" points="262.8,272.2 263.4,271.9 265.2,271.2 265.5,271.1 265.5,285.5 262.8,285.8"/>
<polygon fill="#f8c808" points="265,271.3 267,270.5 267,285.3 265,285.5"/>
<polygon fill="#f4f01c" points="266.5,270.7 267.8,270.2 268.5,270.1 268.5,285 266.5,285.3"/>
<polygon fill="#d0d868" points="268,270.2 269.8,270 269.8,284.9 268,285.1"/>
<polygon fill="#1cd81c" points="269.2,270.1 271.8,269.8 273.2,269.7 273.2,284.4 269.2,284.9"/>
<polygon fill="#12b4f2" points="272.7,269.7 274.2,269.6 275.2,269.5 276.9,269.5 276.9,283.9 272.7,284.5"/>
<polygon fill="#1cd81c" points="276.4,269.5 277.9,269.4 277.9,283.8 276.4,284"/>
<polygon fill="#f4f01c" points="277.4,269.4 279.9,269.3 280.1,269.3 280.1,283.5 277.4,283.8"/>
<polygon fill="#80e8da" points="279.6,269.3 280.5,269.2 282.1,269.1 283.2,269 283.2,283.1 279.6,283.5"/>
<polygon fill="#b4cc5e" points="282.7,269 285.1,268.8 285.1,282.8 282.7,283.1"/>
<polygon fill="#5ce67c" points="284.6,268.8 286.8,268.6 287.1,268.6 287.2,268.6 287.2,282.5 284.6,282.9"/>
<polygon fill="#1cd81c" points="286.8,268.6 289.2,268.5 290.4,268.4 290.4,282.1 286.8,282.6"/>
<polygon fill="#20e6f0" points="289.9,268.4 292.4,268.3 292.5,268.3 292.5,281.8 289.9,282.2"/>
<polygon fill="#80e8da" points="292,268.3 293,268.3 294.4,268.2 294.4,281.5 292,281.9"/>
<polygon fill="#1cd81c" points="293.9,268.2 296.3,268 296.3,281.3 293.9,281.6"/>
<polygon fill="#5cd6d4" points="295.8,268 298.3,267.8 299.2,267.7 300.8,267.5 301.3,267.4 301.3,280.6 295.8,281.4"/>
<polygon fill="#1cd81c" points="300.8,267.5 303.3,267.1 305.5,266.8 305.8,266.7 306,266.7 306,280 300.8,280.7"/>
<polygon fill="#a8dc50" points="305.5,266.8 308,266.5 308.2,266.5 308.2,279.7 305.5,280"/>
<polygon fill="#5ce67c" points="307.7,266.5 310.1,266.3 310.1,279.4 307.7,279.8"/>
<polygon fill="#1cd81c" points="309.6,266.3 311.8,266.1 311.9,266.1 311.9,279.2 309.6,279.5"/>
<polygon fill="#d0d868" points="311.4,266.1 311.8,266.1 313.9,265.8 314.4,265.7 314.4,278.8 311.4,279.3"/>
<polygon fill="#80e8da" points="313.9,265.8 316,265.5 316,278.6 313.9,278.9"/>
<polygon fill="#1cd81c" points="315.5,265.6 317.5,265.3 317.5,278.4 315.5,278.7"/>
<polygon fill="#96e860" points="317,265.3 318,265.2 319.5,265.1 321.3,265 321.3,277.9 317,278.5"/>
<polygon fill="#0cde0c" points="320.8,265.1 323.3,264.9 324.2,264.9 325.8,264.9 326,265 326,277.3 320.8,278"/>
<polygon fill="#8ccc84" points="325.5,264.9 328,265 328.2,265 328.2,277 325.5,277.3"/>
<polygon fill="#20e6f0" points="327.7,265 330.2,265.1 330.4,265.1 330.4,276.7 327.7,277"/>
<polygon fill="#1088f0" points="329.9,265.1 331,265.1 332.4,264.9 332.5,264.9 332.5,276.4 329.9,276.7"/>
<polygon fill="#5cd6d4" points="332,265 334.4,264.6 334.4,276.1 332,276.5"/>
<polygon fill="#4ce638" points="333.9,264.7 336.4,264.4 338.2,264.1 338.9,264.1 339.4,264.1 339.4,275.5 333.9,276.2"/>
<polygon fill="#b4cc5e" points="338.9,264.1 340.5,264.1 340.5,275.3 338.9,275.5"/>
<polygon fill="#4ce638" points="340,264.1 342.5,264.1 344.4,264.1 344.4,274.8 340,275.4"/>
<polygon fill="#5cd6d4" points="343.9,264.1 344.5,264.1 346.4,264.1 348.9,264.1 350,264.1 350,274 343.9,274.9"/>
<polygon fill="#80e8da" points="349.5,264.1 350.8,264.1 352,264.1 354.5,264.1 355,264.1 355,273.4 349.5,274.1"/>
<polygon fill="#5ce67c" points="354.5,264.1 357,264.1 358.1,264 358.1,272.9 354.5,273.4"/>
<polygon fill="#0cde0c" points="357.6,264 360.1,263.8 361.9,263.6 361.9,272.4 357.6,273"/>
<polygon fill="#1cd81c" points="361.4,263.6 363.2,263.4 363.9,263.2 366.2,262.5 366.2,271.8 361.4,272.5"/>
<polygon fill="#a8dc50" points="365.8,262.7 368.1,262 368.1,271.6 365.8,271.9"/>
<polygon fill="#1cd81c" points="367.6,262.1 369.4,261.6 369.4,271.4 367.6,271.7"/>
<polygon fill="#b4cc5e" points="368.9,261.8 369.5,261.6 371.4,260.7 372.5,260.2 372.5,271 368.9,271.5"/>
<polygon fill="#e8e638" points="372,260.5 374.5,259.3 375.8,258.8 377,258.2 377.5,258.1 377.5,270.3 372,271.1"/>
<polygon fill="#f59a06" points="377,258.2 379.4,257.3 379.4,270.1 377,270.4"/>
<polygon fill="#f4f01c" points="378.9,257.5 381.2,256.6 381.2,269.8 378.9,270.1"/>
<polygon fill="#1cd81c" points="380.8,256.8 382,256.2 382.5,256.1 382.5,269.6 380.8,269.9"/>
<polygon fill="#e0f080" points="382,256.2 384.5,255.4 386.9,254.6 386.9,269 382,269.7"/>
<polygon fill="#f4f01c" points="386.4,254.7 388.2,254.1 388.9,253.9 391.2,253.4 391.2,268.5 386.4,269.1"/>
<polygon fill="#1cd81c" points="390.8,253.5 393.2,252.9 393.4,252.9 393.4,268.2 390.8,268.5"/>
<polygon fill="#5cd6d4" points="392.9,253 395,252.5 395.3,252.5 395.3,267.9 392.9,268.2"/>
<polygon fill="#1cd81c" points="394.8,252.5 395,252.5 397.3,252.2 398.1,252 398.1,267.5 394.8,268"/>
<polygon fill="#f4f01c" points="397.6,252.1 400.1,251.7 401.2,251.6 401.2,267.1 397.6,267.6"/>
<polygon fill="#0cde0c" points="400.7,251.6 402.2,251.4 403.2,251.5 405.7,251.7 405.9,251.8 405.9,266.5 400.7,267.2"/>
<polygon fill="#20e6f0" points="405.4,251.7 407.9,251.9 408.5,252 409.6,252.2 409.6,266 405.4,266.5"/>
<polygon fill="#12b4f2" points="409.1,252.1 411.5,252.4 411.5,265.7 409.1,266"/>
<polygon fill="#20e6f0" points="411,252.4 413.5,252.7 414.8,252.9 415.9,252.9 415.9,265.1 411,265.8"/>
<polygon fill="#5cd6d4" points="415.4,252.9 417.1,252.9 417.1,265 415.4,265.2"/>
<polygon fill="#5ce67c" points="416.6,252.9 419.1,252.9 419.5,252.9 419.5,264.6 416.6,265"/>
<polygon fill="#8ccc84" points="419,252.9 420.1,252.9 420.1,264.6 419,264.7"/>
<polygon fill="#5ce67c" points="419.6,252.9 421,252.9 422.1,252.8 424,252.8 424,264 419.6,264.6"/>
<polygon fill="#0cde0c" points="423.5,252.8 426,252.7 427.2,252.6 428.5,252.6 429,252.6 429,263.4 423.5,264.1"/>
<polygon fill="#5ce67c" points="428.5,252.6 431,252.6 431.5,252.6 431.5,263 428.5,263.4"/>
<polygon fill="#1cd81c" points="431,252.6 432.1,252.6 432.1,262.9 431,263.1"/>
<polygon fill="#5ce67c" points="431.6,252.6 433.5,252.6 434.1,252.6 434.5,252.6 434.5,262.6 431.6,263"/>
<polygon fill="#8ccc84" points="434,252.6 435.1,252.6 435.1,262.5 434,262.7"/>
<polygon fill="#5ce67c" points="434.6,252.6 437.1,252.6 437.5,252.6 437.5,262.2 434.6,262.6"/>
<polygon fill="#4ce638" points="437,252.6 439.5,252.6 439.8,252.6 440.2,252.6 440.2,261.8 437,262.3"/>
<polygon fill="#80e8da" points="439.8,252.6 442.2,252.5 443.5,252.4 443.5,261.4 439.8,261.9"/>
<polygon fill="#5cd6d4" points="443,252.4 444.1,252.4 444.1,261.3 443,261.5"/>
<polygon fill="#80e8da" points="443.6,252.4 446,252.3 446.1,252.3 447.5,252.2 447.5,260.9 443.6,261.4"/>
<polygon fill="#5cd6d4" points="447,252.3 448.1,252.2 448.1,260.8 447,260.9"/>
<polygon fill="#80e8da" points="447.6,252.2 450.1,252.1 451,252.1 451,260.4 447.6,260.8"/>
<polygon fill="#5cd6d4" points="450.5,252.1 451.6,252 451.6,260.3 450.5,260.4"/>
<polygon fill="#80e8da" points="451.1,252.1 452.2,252 453.6,251.9 454.5,251.8 454.5,259.9 451.1,260.4"/>
<polygon fill="#5cd6d4" points="454,251.9 456.5,251.7 456.5,259.6 454,260"/>
<polygon fill="#5ce67c" points="456,251.7 458.5,251.5 459,251.5 460.5,251.4 460.5,259.1 456,259.7"/>
<polygon fill="#4ce638" points="460,251.4 462.5,251.2 465,251 466.1,250.9 466.1,258.3 460,259.2"/>
<polygon fill="#5cd6d4" points="465.6,251 466.2,250.9 468.1,250.7 469.9,250.5 469.9,257.8 465.6,258.4"/>
<polygon fill="#1cd81c" points="469.4,250.6 471.5,250.4 471.5,257.6 469.4,257.9"/>
<polygon fill="#b4cc5e" points="471,250.4 472.5,250.2 472.7,250.2 472.7,257.4 471,257.7"/>
<polygon fill="#80e8da" points="472.2,250.3 472.5,250.2 474.7,250 475.5,249.9 475.5,257.1 472.2,257.5"/>
<polygon fill="#1cd81c" points="475,250 477.5,249.7 478.8,249.6 480,249 480.5,248.8 480.5,256.4 475,257.1"/>
<polygon fill="#f4f01c" points="480,249 481.9,248.1 482.4,247.8 482.4,256.1 480,256.5"/>
<polygon fill="#f59a06" points="481.9,248.1 484.4,246.6 485,246.2 486.9,244.9 488,244.1 488,255.4 481.9,256.2"/>
<polygon fill="#ea4604" points="487.5,244.4 488.1,244 489.5,243.3 489.5,255.2 487.5,255.4"/>
<polygon fill="#f4f01c" points="489,243.5 491.2,242.4 491.5,242.3 492.7,241.8 492.7,254.7 489,255.2"/>
<polygon fill="#f59a06" points="492.2,242 494.5,241.1 494.5,254.5 492.2,254.8"/>
<polygon fill="#f8c808" points="494,241.3 495,240.9 496.1,240.4 496.1,254.3 494,254.6"/>
<polygon fill="#1cd81c" points="495.6,240.6 498.1,239.6 498.6,239.4 498.6,253.9 495.6,254.4"/>
<polygon fill="#f4f01c" points="498.1,239.6 498.8,239.3 500.6,238.9 502.4,238.4 502.4,253.4 498.1,254"/>
<polygon fill="#1cd81c" points="501.9,238.5 503.8,238.1 504.4,238 506.9,237.6 507.4,237.5 507.4,252.8 501.9,253.5"/>
<polygon fill="#96e860" points="506.9,237.6 509.4,237.2 510,237.1 511.9,236.8 513,236.7 513,252 506.9,252.8"/>
<polygon fill="#4ce638" points="512.5,236.7 515,236.4 516.2,236.2 517.5,236.1 520,235.8 520.5,235.7 520.5,251 512.5,252.1"/>
<polygon fill="#5cd6d4" points="520,235.8 522.5,235.5 523,235.4 524.5,235.2 524.5,250.4 520,251.1"/>
<polygon fill="#80e8da" points="524,235.3 526.5,235.1 529,234.8 529.2,234.7 529.2,249.8 524,250.5"/>
<polygon fill="#f4f01c" points="528.7,234.8 529,234.8 531.2,233.2 532.1,232.6 533.7,232.2 536.2,231.5 536.4,231.4 536.4,248.8 528.7,249.9"/>
<polygon fill="#1cd81c" points="535.9,231.6 536.5,231.4 538.4,231.3 539.2,231.3 539.2,248.5 535.9,248.9"/>
<polygon fill="#80e8da" points="538.7,231.3 541.2,231.2 542.8,231.1 543.7,231.1 546.2,231.1 547.8,231.1 548.2,230.9 548.2,247.2 538.7,248.5"/>
<polygon fill="#e8e638" points="547.8,231.1 550.2,230 552.1,229.2 552.8,229 553.2,228.9 553.2,246.6 547.8,247.3"/>
<polygon fill="#d0d868" points="552.8,229 555.1,228.3 555.1,246.3 552.8,246.6"/>
<polygon fill="#e0f080" points="554.6,228.4 557,227.7 557,246.1 554.6,246.4"/>
<polygon fill="#d0d868" points="556.5,227.9 558.4,227.3 559,227.2 560.1,227 560.1,245.6 556.5,246.1"/>
<polygon fill="#4ce638" points="559.6,227.1 562.1,226.6 564.6,226.1 567,225.6 567,244.7 559.6,245.7"/>
<polygon fill="#96e860" points="566.5,225.7 569,225.2 569.5,225.1 569.5,244.4 566.5,244.8"/>
<polygon fill="#b4cc5e" points="569,225.2 570.9,224.8 571.4,224.7 571.4,244.1 569,244.4"/>
<polygon fill="#20e6f0" points="570.9,224.8 572.9,224.4 572.9,243.9 570.9,244.2"/>
<polygon fill="#1cd81c" points="572.4,224.5 574.5,224.1 574.5,243.7 572.4,244"/>
<polygon fill="#96e860" points="574,224.2 576.5,223.7 577,223.6 577,243.4 574,243.8"/>
<polygon fill="#4ce638" points="576.5,223.7 577.1,223.6 579,223.2 581.4,222.7 581.4,242.8 576.5,243.4"/>
<polygon fill="#d0d868" points="580.9,222.8 583.4,222.3 584.5,222 584.5,242.3 580.9,242.8"/>
<polygon fill="#a8dc50" points="584,222.2 586.5,221.5 587,221.4 587,242 584,242.4"/>
<polygon fill="#4ce638" points="586.5,221.5 587.9,221.2 589,220.9 590.1,220.6 590.1,241.6 586.5,242.1"/>
<polygon fill="#f59a06" points="589.6,220.8 591.8,220.2 592.1,220.3 592.2,220.3 592.2,241.3 589.6,241.6"/>
<polygon fill="#20e6f0" points="591.8,220.2 594.2,220.8 596.8,221.8 598.5,222.5 598.5,240.4 591.8,241.4"/>
<polygon fill="#12b4f2" points="598,222.3 600.5,223.3 603,224.2 604.1,224.6 604.1,239.7 598,240.5"/>
<polygon fill="#20e6f0" points="603.6,224.4 606.1,225.3 606.8,225.5 608.6,226.3 609.1,226.5 609.1,239 603.6,239.8"/>
<polygon fill="#20e6f0" points="608.6,226.3 611.1,227.4 611.6,227.6 611.6,238.7 608.6,239.1"/>
<polygon fill="#1088f0" points="611.1,227.4 611.8,227.7 613.2,228.3 613.2,238.5 611.1,238.7"/>
<polygon fill="#0c38e0" points="612.7,228.1 615.2,229.2 615.4,229.3 615.4,238.2 612.7,238.5"/>
<polygon fill="#12b4f2" points="614.9,229.1 616.1,229.6 617.4,229.8 618.5,230.1 618.5,237.7 614.9,238.2"/>
<polygon fill="#20e6f0" points="618,230 619.8,230.3 619.8,237.6 618,237.8"/>
<polygon fill="#a8dc50" points="619.2,230.2 621,230.5 621,237.4 619.2,237.6"/>
<polygon fill="#1cd81c" points="620.5,230.4 622.4,230.8 622.5,230.8 622.5,237.2 620.5,237.5"/>
<polygon fill="#a8dc50" points="622,230.7 622.4,230.8 624.1,231 624.1,237 622,237.3"/>
<polygon fill="#20e6f0" points="623.6,230.9 626.1,231.2 628.6,231.4 629.1,231.5 629.1,236.3 623.6,237.1"/>
<polygon fill="#1cd81c" points="628.6,231.4 631.1,231.7 631.6,231.8 631.6,236 628.6,236.4"/>
<polygon fill="#20e6f0" points="631.1,231.7 633.6,232.1 634.4,232.2 634.4,235.6 631.1,236"/>
<polygon fill="#1cd81c" points="633.9,232.2 634.9,232.3 636,232 636,235.4 633.9,235.7"/>
<polygon fill="#a8dc50" points="635.5,232.2 637.9,231.5 637.9,235.1 635.5,235.4"/>
<polygon fill="#e8e638" points="637.4,231.6 638,231.5 639.9,230.2 641,229.5 641,234.7 637.4,235.2"/>
<polygon fill="#f59a06" points="640.5,229.8 641.1,229.4 642.2,228.4 642.2,234.5 640.5,234.8"/>
<polygon fill="#ea4604" points="641.8,228.9 643.5,227.4 643.5,234.4 641.8,234.6"/>
<polygon fill="#f8c808" points="643,227.8 644.2,226.8 645.4,226.1 645.4,234.1 643,234.4"/>
<polygon fill="#f59a06" points="644.9,226.4 647.4,224.9 648.8,224.2 648.8,233.6 644.9,234.2"/>
<polygon fill="#f4f01c" points="648.3,224.5 650.5,223.3 650.7,223.2 650.7,233.4 648.3,233.7"/>
<polygon fill="#d0d868" points="650.2,223.5 650.5,223.3 652,222.5 652.5,222.4 652.5,233.1 650.2,233.5"/>
<polygon fill="#1cd81c" points="652,222.5 654.4,221.8 654.4,232.9 652,233.2"/>
<polygon fill="#96e860" points="653.9,222 656.4,221.2 656.9,221.1 656.9,232.6 653.9,233"/>
<polygon fill="#4ce638" points="656.4,221.2 658.2,220.7 658.9,220.6 660.3,220.3 660.3,232.1 656.4,232.6"/>
<polygon fill="#f59a06" points="659.8,220.4 661.5,220 661.5,231.9 659.8,232.2"/>
<polygon fill="#f4f01c" points="661,220.1 663.5,219.6 663.8,219.6 663.8,231.6 661,232"/>
<polygon fill="#1cd81c" points="663.2,219.7 664.5,219.4 665.8,219.1 668.1,218.6 668.1,231 663.2,231.7"/>
<polygon fill="#5cd6d4" points="667.6,218.7 670.1,218.1 670.3,218 670.3,230.7 667.6,231.1"/>
<polygon fill="#0cde0c" points="669.8,218.1 670.8,217.9 672.3,217.5 673.8,217.1 673.8,230.3 669.8,230.8"/>
<polygon fill="#a8dc50" points="673.2,217.3 675.6,216.7 675.6,230 673.2,230.3"/>
<polygon fill="#b4cc5e" points="675.1,216.8 677,216.3 677.2,216.3 677.2,229.8 675.1,230.1"/>
<polygon fill="#e8e638" points="676.7,216.4 677,216.3 679.2,216 680.3,215.8 680.3,229.4 676.7,229.9"/>
<polygon fill="#80e8da" points="679.8,215.9 682.3,215.5 683.2,215.4 683.5,215.4 683.5,229 679.8,229.5"/>
<polygon fill="#d0d868" points="683,215.4 683.2,215.4 685.3,215.2 685.3,228.7 683,229"/>
<polygon fill="#5cd6d4" points="684.8,215.3 687.3,215 687.5,215 687.5,228.4 684.8,228.8"/>
<polygon fill="#1cd81c" points="687,215 689.4,214.8 689.4,228.2 687,228.5"/>
<polygon fill="#d0d868" points="688.9,214.9 689.5,214.8 691.4,214.6 692.5,214.5 692.5,227.7 688.9,228.2"/>
<polygon fill="#1cd81c" points="692,214.5 692.6,214.4 693.8,214.8 693.8,227.6 692,227.8"/>
<polygon fill="#20e6f0" points="693.2,214.6 695.8,215.4 698.2,216.2 698.8,216.4 698.8,226.9 693.2,227.6"/>
<polygon fill="#1088f0" points="698.2,216.2 699.5,216.6 700.6,217.1 700.6,226.6 698.2,227"/>
<polygon fill="#0c38e0" points="700.1,216.9 702.6,217.9 703.9,218.5 704.4,218.5 704.4,226.1 700.1,226.7"/>
<polygon fill="#20e6f0" points="703.9,218.5 706.4,218.7 707,218.8 707.5,218.5 707.5,225.7 703.9,226.2"/>
<polygon fill="#f4f01c" points="707,218.8 709.5,217.3 710.8,216.6 712,215.9 712.5,215.7 712.5,225 707,225.8"/>
<polygon fill="#f8c808" points="712,215.9 714.5,214.6 714.5,224.8 712,225.1"/>
<polygon fill="#f4f01c" points="714,214.8 715,214.3 716.5,213.5 718.4,212.5 718.4,224.2 714,224.8"/>
<polygon fill="#f8c808" points="717.9,212.8 719.8,211.8 719.9,211.7 719.9,224 717.9,224.3"/>
<polygon fill="#f4f01c" points="719.4,212 719.8,211.8 721.9,211.1 722.8,210.8 722.8,223.7 719.4,224.1"/>
<polygon fill="#d0d868" points="722.2,210.9 723.5,210.5 724.3,210.5 724.3,223.4 722.2,223.7"/>
<polygon fill="#80e8da" points="723.8,210.5 725.9,210.6 725.9,223.2 723.8,223.5"/>
<polygon fill="#5ce67c" points="725.4,210.6 727.9,210.8 728.5,210.8 728.7,210.9 728.7,222.8 725.4,223.3"/>
<polygon fill="#1088f0" points="728.2,210.8 728.5,210.8 730.7,211.7 732.1,212.2 732.1,222.4 728.2,222.9"/>
<polygon fill="#12b4f2" points="731.6,212 734.1,213 734.8,213.3 736.6,213.9 737.1,214 737.1,221.7 731.6,222.5"/>
<polygon fill="#12b4f2" points="736.6,213.9 739.1,214.6 741,215.2 741.6,215.1 742.5,215 742.5,221 736.6,221.8"/>
<polygon fill="#a8dc50" points="742,215 744,214.7 744,220.8 742,221"/>
<polygon fill="#f4f01c" points="743.5,214.8 744.8,214.6 745.5,214.2 745.5,220.6 743.5,220.8"/>
<polygon fill="#ea4604" points="745,214.5 747.5,213 748.5,212.4 749.3,212.2 749.3,220.1 745,220.6"/>
<polygon fill="#0cde0c" points="748.8,212.3 751.3,211.7 753.5,211.1 753.8,211 756.3,210.4 757.2,210.2 757.8,210 757.8,218.9 748.8,220.1"/>
<polygon fill="#f8c808" points="757.2,210.2 759.6,209.3 759.6,218.7 757.2,219"/>
<polygon fill="#e8e638" points="759.1,209.5 761.6,208.5 762.9,208 764.1,207.5 766.5,206.5 766.5,217.7 759.1,218.7"/>
<polygon fill="#e0f080" points="766,206.8 768.5,205.7 769.1,205.5 771,204.9 772.5,204.5 772.5,216.9 766,217.8"/>
<polygon fill="#e8e638" points="772,204.6 774.5,203.9 775.4,203.6 776.5,203 776.5,216.4 772,217"/>
<polygon fill="#e8e638" points="776,203.3 778.5,202 780,201.3 781,201 783.3,200.2 783.3,215.5 776,216.5"/>
<polygon fill="#e0f080" points="782.8,200.4 784.9,199.7 784.9,215.3 782.8,215.5"/>
<polygon fill="#e0f080" points="784.4,199.8 786.2,199.2 786.9,199 789.4,198.4 789.9,198.3 789.9,214.6 784.4,215.3"/>
<polygon fill="#e8e638" points="789.4,198.4 791.9,197.7 792.5,197.6 793,197.5 793,214.2 789.4,214.6"/>
<polygon fill="#d0d868" points="792.5,197.6 795,197 796.1,196.7 796.1,213.7 792.5,214.2"/>
<polygon fill="#e0f080" points="795.6,196.8 798.1,196.2 798.8,196.1 800.6,195.6 803.1,194.9 805,194.4 805.6,194.3 806.8,193.9 806.8,212.3 795.6,213.8"/>
<polygon fill="#d0d868" points="806.2,194 808.8,193.3 810,192.9 811.1,191.9 811.1,211.7 806.2,212.4"/>
<polygon fill="#f8c808" points="810.6,192.4 812.5,190.7 813.1,190.4 813.6,190.1 813.6,211.4 810.6,211.8"/>
<polygon fill="#f4f01c" points="813.1,190.4 815.6,189.2 816.2,188.9 817.4,188.3 817.4,210.9 813.1,211.4"/>
<polygon fill="#f8c808" points="816.9,188.6 819.2,187.5 819.2,210.6 816.9,210.9"/>
<polygon fill="#f4f01c" points="818.8,187.7 820.6,186.8 821.2,186.5 823.8,185.4 825,184.8 825.5,184.6 825.5,209.8 818.8,210.7"/>
<polygon fill="#1cd81c" points="825,184.8 826.9,184 827.4,184.1 827.4,209.5 825,209.8"/>
<polygon fill="#5cd6d4" points="826.9,184 828.9,184.3 828.9,209.3 826.9,209.6"/>
<polygon fill="#1cd81c" points="828.4,184.2 830,184.4 830.2,184.4 830.2,209.1 828.4,209.4"/>
<polygon fill="#20e6f0" points="829.7,184.4 830,184.4 832.2,184.7 834.7,185 836.2,185.2 837.2,185.4 839.7,185.9 842.2,186.4 843,186.5 844.7,187 847.2,187.7 849.7,188.3 850.2,188.5 852.2,189.1 854.7,189.8 856.5,190.3 857.2,190.4 859.7,190.9 862.2,191.4 862.8,191.5 864.7,191.6 865.1,191.6 865.1,204.4 829.7,209.2"/>
<polygon fill="#1cd81c" points="864.6,191.6 867.1,191.7 867.3,191.7 867.3,204.1 864.6,204.5"/>
<polygon fill="#5cd6d4" points="866.8,191.7 868.5,191.8 868.5,204 866.8,204.2"/>
<polygon fill="#d0d868" points="868,191.8 869,191.8 870.5,191.7 870.5,203.7 868,204"/>
<polygon fill="#80e8da" points="870,191.7 872.5,191.5 875,191.2 875.2,191.2 876.4,191.3 876.4,202.9 870,203.7"/>
<polygon fill="#1cd81c" points="875.9,191.2 878.4,191.4 880.5,191.5 880.5,202.3 875.9,203"/>
<polygon fill="#80e8da" points="880,191.4 881.5,191.5 882.5,191.6 882.6,191.6 882.6,202 880,202.4"/>
<polygon fill="#1088f0" points="882.1,191.6 884.5,191.8 884.5,201.8 882.1,202.1"/>
<polygon fill="#5cd6d4" points="884,191.7 886.5,192 887.8,192.1 889,192.2 891.5,192.5 893.2,192.7 893.2,200.6 884,201.9"/>
<polygon fill="#f4f01c" points="892.8,192.7 894,192.8 895.2,192.7 896.4,192.5 896.4,200.2 892.8,200.7"/>
<polygon fill="#1cd81c" points="895.9,192.6 897.6,192.4 897.6,200 895.9,200.2"/>
<polygon fill="#5cd6d4" points="897.1,192.5 899.6,192.2 900.2,192.1 900.5,192.1 900.5,199.6 897.1,200.1"/>
<polygon fill="#d0d868" points="900,192.1 900.2,192.1 902.3,191.9 902.3,199.4 900,199.7"/>
<polygon fill="#1cd81c" points="901.8,192 904.3,191.8 906.1,191.7 906.1,198.9 901.8,199.5"/>
<polygon fill="#80e8da" points="905.6,191.7 907,191.6 908.1,191.6 908.5,191.6 908.5,198.5 905.6,198.9"/>
<polygon fill="#12b4f2" points="908,191.6 910.4,191.6 910.4,198.3 908,198.6"/>
<polygon fill="#1cd81c" points="909.9,191.6 912.2,191.6 912.2,198 909.9,198.4"/>
<polygon fill="#5cd6d4" points="911.8,191.6 914.2,191.6 916.6,191.6 916.6,197.5 911.8,198.1"/>
<polygon fill="#5ce67c" points="916.1,191.6 918.6,191.6 919.1,191.6 919.1,197.1 916.1,197.5"/>
<polygon fill="#80e8da" points="918.6,191.6 920.5,191.6 921.1,191.6 923.5,191.5 923.5,196.5 918.6,197.2"/>
<polygon fill="#f4f01c" points="923,191.5 925.5,191.4 926.6,191.3 926.6,196.1 923,196.6"/>
<polygon fill="#1cd81c" points="926.1,191.3 926.8,191.3 927.9,191.3 927.9,195.9 926.1,196.2"/>
<polygon fill="#20e6f0" points="927.4,191.3 929.9,191.3 931.6,191.3 931.6,195.4 927.4,196"/>
<polygon fill="#5cd6d4" points="931.1,191.3 933,191.3 933.6,191.3 934.8,191.2 934.8,195 931.1,195.5"/>
<polygon fill="#1cd81c" points="934.2,191.2 936.8,191.1 939.2,190.9 941.8,190.8 944.2,190.7 945.5,190.6 946,190.6 946,193.5 934.2,195.1"/>
<polygon fill="#5cd6d4" points="945.5,190.6 947.9,190.4 947.9,193.2 945.5,193.5"/>
<polygon fill="#1cd81c" points="947.4,190.4 949.9,190.2 951.8,190 952.4,190 954.1,189.9 954.1,192.4 947.4,193.3"/>
<polygon fill="#d0d868" points="953.6,189.9 956.1,189.8 956.6,189.8 956.6,192 953.6,192.4"/>
<polygon fill="#5cd6d4" points="956.1,189.8 958,189.7 958.5,189.7 958.5,191.8 956.1,192.1"/>
<polygon fill="#1cd81c" points="958,189.7 960.5,189.5 962.5,189.3 962.5,191.2 958,191.9"/>
<polygon fill="#8ccc84" points="962,189.3 964.2,189.1 964.5,189.1 964.5,191 962,191.3"/>
<polygon fill="#1cd81c" points="964,189.1 964.2,189.1 966.5,188.9 969,188.7 970.5,188.6 971.5,188.5 972.5,188.4 972.5,189.9 964,191"/>
<polygon fill="#8ccc84" points="972,188.4 974.5,188.2 974.5,189.6 972,190"/>
<polygon fill="#1cd81c" points="974,188.2 976.5,187.9 979,187.7 981.5,187.4 984,187.1 985,187 986.5,186.8 989,186.6 991.5,186.3 994,186.1 994.8,186 994.8,186.9 974,189.7"/>
</g>
<path d="M26.5,312.5V317.7M28.9,312.4V317.5M30.9,310.9V317.2M34.2,308.4V316.9M36,308V316.7M39,307.2V316.3M41.6,306.6V316.1M43.3,306.1V315.9M46.2,305.4V315.5M47.9,305V315.4M50.7,304.4V315M52.4,304.1V314.8M54.3,303.8V314.5M57,303.3V314.2M60.7,302.9V313.6M62.6,302.7V313.4M64.8,302.4V313.1M68.1,302.1V312.6M72.1,301.7V312.1M75.2,301.4V311.6M77.9,301.5V311.3M82,301.2V310.7M83.7,300.8V310.4M87.5,300.1V309.8M89.9,299.8V309.5M91.9,299.5V309.2M93.8,299.1V308.9M96.2,298.7V308.6M99.9,298V308M102,297.6V307.7M105.1,296.9V307.2M108.3,295.5V306.8M110.9,294.2V306.4M113.9,292.7V306M115.7,292.1V305.7M117.5,291.5V305.5M119.6,291.3V305.2M123,291V304.7M125.7,290.7V304.3M128.1,290.5V304M131.2,290.2V303.5M134,289.9V303.1M136.4,289.7V302.8M140,289.3V302.3M143.5,288.9V301.8M145.7,288.6V301.5M148.8,288.1V301.1M151.7,287.7V300.6M155.6,287.1V300.1M159.1,286.6V299.6M161.5,286.3V299.3M165.6,285.7V298.7M167.5,285.4V298.5M170.2,285V298.1M173.8,284.6V297.6M175.8,284.4V297.3M178.6,284V296.9M180.3,283.8V296.7M183.7,283.4V296.3M187.3,283V295.8M190.4,282.7V295.3M194.2,282.3V294.8M196.7,282.1V294.5M200.1,282.1V294M203.2,282.2V293.6M206.3,282.5V293.2M209.1,282.8V292.8M212.9,282.4V292.3M216.9,281.5V291.7M219.8,280.6V291.3M223.1,279.6V290.9M224.9,279.1V290.6M228.3,278.2V290.2M231.6,277.4V289.7M235.7,277V289.2M239.5,277V288.7M241.8,277.1V288.4M244.4,277.2V288M247.8,276.9V287.6M249.4,276.8V287.3M252.2,276.1V286.9M254.3,275.4V286.7M256.2,274.7V286.4M257.9,274.1V286.2M261.5,272.6V285.7M263.5,271.9V285.4M265.7,271V285.1M268.3,270.1V284.8M272.2,269.8V284.3M274,269.6V284M276.8,269.5V283.6M279.8,269.3V283.2M283.7,268.9V282.7M287.4,268.6V282.2M291.3,268.4V281.7M293.6,268.2V281.4M296.3,268V281M298.8,267.7V280.7M302.7,267.2V280.1M306.8,266.6V279.6M308.8,266.4V279.3M310.8,266.2V279M313,265.9V278.7M315.2,265.6V278.4M318.1,265.2V278M321.2,265V277.6M323.5,264.9V277.3M325.1,264.9V277.1M327.8,265V276.7M330.4,265.1V276.4M333.5,264.8V276M337.5,264.2V275.4M340.9,264.1V275M343.9,264.1V274.6M347.1,264.1V274.1M350.4,264.1V273.7M352.2,264.1V273.4M356.1,264.1V272.9M359.7,263.8V272.4M363.6,263.3V271.9M367.3,262.2V271.4M369.9,261.4V271M372.5,260.2V270.7M374.4,259.4V270.4M377.7,258V270M379.4,257.3V269.8M381.2,256.6V269.5M383.3,255.8V269.2M385.4,255.1V269M387.8,254.2V268.6M389.6,253.8V268.4M391.2,253.4V268.2M393.2,252.9V267.9M395,252.5V267.6M397.6,252.1V267.3M399.3,251.9V267.1M403.1,251.5V266.6M406.3,251.8V266.1M408.3,252V265.9M410.6,252.3V265.5M413.1,252.7V265.2M415.6,252.9V264.9M417.5,252.9V264.6M421.3,252.9V264.1M425.5,252.7V263.5M428.3,252.6V263.1M431.2,252.6V262.8M433,252.6V262.5M434.9,252.6V262.3M437.4,252.6V261.9M439.7,252.6V261.6M443.4,252.4V261.1M445.4,252.3V260.8M447.1,252.2V260.6M451.2,252.1V260.1M454.1,251.9V259.7M456.1,251.7V259.4M459.1,251.5V259M460.8,251.4V258.8M463.8,251.1V258.4M467.9,250.7V257.8M471.8,250.3V257.3M475.2,250V256.8M477.5,249.7V256.5M480,249V256.2M482,248V255.9M485.7,245.7V255.4M488.6,243.7V255M492.3,242V254.5M494.7,241V254.2M496.9,240.1V253.9M500.6,238.9V253.4M504.8,237.9V252.8M508.6,237.3V252.3M512.3,236.8V251.8M516,236.2V251.3M519.5,235.8V250.8M521.7,235.6V250.5M524.7,235.2V250.1M527.2,235V249.8M528.9,234.8V249.6M530.5,233.7V249.3M532.9,232.4V249M535.1,231.8V248.7M538.5,231.3V248.2M542.6,231.1V247.7M545.4,231.1V247.3M549.4,230.4V246.8M553.6,228.7V246.2M557.7,227.5V245.7M560.2,226.9V245.3M562.4,226.5V245M564.6,226.1V244.7M566.7,225.7V244.4M568.8,225.2V244.2M572.1,224.6V243.7M576,223.8V243.2M579.8,223V242.7M582.6,222.5V242.3M585.9,221.7V241.8M589.6,220.8V241.3M591.4,220.3V241.1M594.7,221V240.7M598.7,222.6V240.1M602.3,223.9V239.6M605.9,225.2V239.1M608.7,226.4V238.8M610.8,227.3V238.5M614.5,228.9V238M616.9,229.8V237.7M620.6,230.5V237.2M624.7,231V236.6M627.4,231.3V236.2M630,231.6V235.9M634.1,232.2V235.3M637.5,231.6V234.9M639.6,230.4V234.6M641.5,229.1V234.3M643.5,227.4V234.1M647.5,224.9V233.5M651.2,222.9V233M653.1,222.2V232.8M656.9,221.1V232.3M661,220.1V231.7M664.3,219.5V231.2M666.9,218.9V230.9M669.9,218.1V230.5M671.8,217.6V230.2M673.5,217.2V230M677.6,216.2V229.5M680.9,215.7V229M683.8,215.3V228.6M687.9,215V228.1M690.6,214.7V227.7M694.5,215V227.2M698.2,216.2V226.7M700.4,217V226.4M702.6,217.9V226.1M705,218.6V225.8M707.2,218.7V225.5M710.3,216.8V225M712.6,215.6V224.7M715.3,214.1V224.4M717.2,213.1V224.1M721.2,211.3V223.6M723.7,210.5V223.2M726.5,210.7V222.8M729.6,211.3V222.4M733.6,212.8V221.9M736.3,213.8V221.5M740.3,215V221M743.2,214.9V220.6M746.1,213.8V220.2M749.1,212.2V219.8M750.8,211.8V219.6M753.5,211.1V219.2M755.6,210.6V218.9M757.2,210.2V218.7M760.9,208.8V218.2M762.9,208V217.9M765.7,206.9V217.5M769.2,205.5V217.1M772.3,204.5V216.7M774.7,203.8V216.3M777.7,202.5V215.9M780.7,201.1V215.5M784.4,199.8V215M786.2,199.2V214.8M789.3,198.4V214.4M791.5,197.8V214.1M793.9,197.3V213.7M797.5,196.4V213.3M800.4,195.6V212.9M803.4,194.8V212.4M807,193.8V212M811,192V211.4M813.7,190.1V211.1M816.9,188.5V210.6M819.8,187.2V210.2M822.8,185.8V209.8M826.2,184.3V209.4M829,184.3V209M831.9,184.7V208.6M834.8,185V208.2M838.8,185.7V207.7M842.3,186.4V207.2M846.1,187.4V206.7M850.2,188.5V206.1M852.5,189.1V205.8M855.5,190V205.4M859.6,190.9V204.9M863.3,191.6V204.3M865.3,191.6V204.1M867.2,191.7V203.8M870,191.7V203.5M871.8,191.5V203.2M874,191.3V202.9M875.8,191.2V202.7M879.1,191.4V202.2M882.8,191.6V201.7M886.7,192V201.2M888.7,192.2V200.9M892.1,192.6V200.5M895.5,192.6V200M897.4,192.4V199.7M901.3,192V199.2M905.4,191.7V198.7M907.6,191.6V198.4M911.7,191.6V197.8M914.3,191.6V197.5M917.2,191.6V197.1M921.4,191.6V196.5M925.1,191.4V196M927.2,191.3V195.7M929.9,191.3V195.4M932.8,191.3V195M935.3,191.2V194.6M937.4,191.1V194.3M939.8,190.9V194M943.3,190.7V193.5M945,190.6V193.3M948,190.4V192.9M950.8,190.1V192.5M952.4,190V192.3M954.9,189.9V192M958.1,189.7V191.5M961,189.4V191.1M962.8,189.2V190.9M966.9,188.9V190.3M970.6,188.6V189.9M974.7,188.1V189.3M976.6,187.9V189M978.9,187.7V188.7M980.6,187.5V188.5M984.2,187.1V188M986.5,186.8V187.7M988.5,186.6V187.4M991.1,186.4V187.1" stroke="#000" stroke-opacity="0.10" stroke-width="0.6" fill="none"/>
<path d="M26.5,312.5l-5.6,-3.8M28.9,312.4l-5.6,-3.8M30.9,310.9l-5.6,-3.8M34.2,308.4l-5.6,-3.8M36,308l-5.6,-3.8M39,307.2l-5.7,-3.8M41.6,306.6l-5.7,-3.8M43.3,306.1l-5.7,-3.8M46.2,305.4l-5.7,-3.8M47.9,305l-5.7,-3.8M50.7,304.4l-5.7,-3.8M52.4,304.1l-5.7,-3.8M54.3,303.8l-5.7,-3.8M57,303.3l-5.7,-3.8M60.7,302.9l-5.7,-3.8M62.6,302.7l-5.7,-3.8M64.8,302.4l-5.7,-3.8M68.1,302.1l-5.8,-3.8M72.1,301.7l-5.8,-3.8M75.2,301.4l-5.8,-3.8M77.9,301.5l-5.8,-3.8M82,301.2l-5.8,-3.8M83.7,300.8l-5.8,-3.8M87.5,300.1l-5.8,-3.8M89.9,299.8l-5.8,-3.8M91.9,299.5l-5.8,-3.8M93.8,299.1l-5.9,-3.8M96.2,298.7l-5.9,-3.8M99.9,298l-5.9,-3.8M102,297.6l-5.9,-3.8M105.1,296.9l-5.9,-3.8M108.3,295.5l-5.9,-3.8M110.9,294.2l-5.9,-3.8M113.9,292.7l-5.9,-3.8M115.7,292.1l-5.9,-3.8M117.5,291.5l-5.9,-3.8M119.6,291.3l-6,-3.8M123,291l-6,-3.8M125.7,290.7l-6,-3.8M128.1,290.5l-6,-3.8M131.2,290.2l-6,-3.8M134,289.9l-6,-3.8M136.4,289.7l-6,-3.8M140,289.3l-6,-3.8M143.5,288.9l-6,-3.8M145.7,288.6l-6,-3.8M148.8,288.1l-6.1,-3.8M151.7,287.7l-6.1,-3.8M155.6,287.1l-6.1,-3.8M159.1,286.6l-6.1,-3.8M161.5,286.3l-6.1,-3.8M165.6,285.7l-6.1,-3.8M167.5,285.4l-6.1,-3.8M170.2,285l-6.1,-3.8M173.8,284.6l-6.2,-3.8M175.8,284.4l-6.2,-3.8M178.6,284l-6.2,-3.8M180.3,283.8l-6.2,-3.8M183.7,283.4l-6.2,-3.8M187.3,283l-6.2,-3.8M190.4,282.7l-6.2,-3.8M194.2,282.3l-6.2,-3.8M196.7,282.1l-6.2,-3.8M200.1,282.1l-6.2,-3.8M203.2,282.2l-6.3,-3.8M206.3,282.5l-6.3,-3.8M209.1,282.8l-6.3,-3.8M212.9,282.4l-6.3,-3.8M216.9,281.5l-6.3,-3.8M219.8,280.6l-6.3,-3.8M223.1,279.6l-6.3,-3.8M224.9,279.1l-6.3,-3.8M228.3,278.2l-6.4,-3.8M231.6,277.4l-6.4,-3.8M235.7,277l-6.4,-3.8M239.5,277l-6.4,-3.9M241.8,277.1l-6.4,-3.9M244.4,277.2l-6.4,-3.9M247.8,276.9l-6.4,-3.9M249.4,276.8l-6.4,-3.9M252.2,276.1l-6.4,-3.9M254.3,275.4l-6.5,-3.9M256.2,274.7l-6.5,-3.9M257.9,274.1l-6.5,-3.9M261.5,272.6l-6.5,-3.9M263.5,271.9l-6.5,-3.9M265.7,271l-6.5,-3.9M268.3,270.1l-6.5,-3.9M272.2,269.8l-6.5,-3.9M274,269.6l-6.5,-3.9M276.8,269.5l-6.5,-3.9M279.8,269.3l-6.5,-3.9M283.7,268.9l-6.6,-3.9M287.4,268.6l-6.6,-3.9M291.3,268.4l-6.6,-3.9M293.6,268.2l-6.6,-3.9M296.3,268l-6.6,-3.9M298.8,267.7l-6.6,-3.9M302.7,267.2l-6.6,-3.9M306.8,266.6l-6.6,-3.9M308.8,266.4l-6.7,-3.9M310.8,266.2l-6.7,-3.9M313,265.9l-6.7,-3.9M315.2,265.6l-6.7,-3.9M318.1,265.2l-6.7,-3.9M321.2,265l-6.7,-3.9M323.5,264.9l-6.7,-3.9M325.1,264.9l-6.7,-3.9M327.8,265l-6.7,-3.9M330.4,265.1l-6.7,-3.9M333.5,264.8l-6.7,-3.9M337.5,264.2l-6.8,-3.9M340.9,264.1l-6.8,-3.9M343.9,264.1l-6.8,-3.9M347.1,264.1l-6.8,-3.9M350.4,264.1l-6.8,-3.9M352.2,264.1l-6.8,-3.9M356.1,264.1l-6.8,-3.9M359.7,263.8l-6.8,-3.9M363.6,263.3l-6.9,-3.9M367.3,262.2l-6.9,-3.9M369.9,261.4l-6.9,-3.9M372.5,260.2l-6.9,-3.9M374.4,259.4l-6.9,-3.9M377.7,258l-6.9,-3.9M379.4,257.3l-6.9,-3.9M381.2,256.6l-6.9,-3.9M383.3,255.8l-6.9,-3.9M385.4,255.1l-6.9,-3.9M387.8,254.2l-6.9,-3.9M389.6,253.8l-7,-3.9M391.2,253.4l-7,-3.9M393.2,252.9l-7,-3.9M395,252.5l-7,-3.9M397.6,252.1l-7,-3.9M399.3,251.9l-7,-3.9M403.1,251.5l-7,-3.9M406.3,251.8l-7,-3.9M408.3,252l-7,-3.9M410.6,252.3l-7,-3.9M413.1,252.7l-7,-3.9M415.6,252.9l-7.1,-3.9M417.5,252.9l-7.1,-3.9M421.3,252.9l-7.1,-3.9M425.5,252.7l-7.1,-3.9M428.3,252.6l-7.1,-3.9M431.2,252.6l-7.1,-3.9M433,252.6l-7.1,-3.9M434.9,252.6l-7.1,-3.9M437.4,252.6l-7.1,-3.9M439.7,252.6l-7.1,-3.9M443.4,252.4l-7.2,-3.9M445.4,252.3l-7.2,-3.9M447.1,252.2l-7.2,-3.9M451.2,252.1l-7.2,-3.9M454.1,251.9l-7.2,-3.9M456.1,251.7l-7.2,-3.9M459.1,251.5l-7.2,-3.9M460.8,251.4l-7.2,-3.9M463.8,251.1l-7.2,-3.9M467.9,250.7l-7.2,-3.9M471.8,250.3l-7.3,-3.9M475.2,250l-7.3,-3.9M477.5,249.7l-7.3,-3.9M480,249l-7.3,-3.9M482,248l-7.3,-3.9M485.7,245.7l-7.3,-3.9M488.6,243.7l-7.3,-3.9M492.3,242l-7.3,-3.9M494.7,241l-7.3,-3.9M496.9,240.1l-7.4,-3.9M500.6,238.9l-7.4,-3.9M504.8,237.9l-7.4,-3.8M508.6,237.3l-7.4,-3.8M512.3,236.8l-7.4,-3.8M516,236.2l-7.4,-3.8M519.5,235.8l-7.4,-3.8M521.7,235.6l-7.4,-3.8M524.7,235.2l-7.5,-3.8M527.2,235l-7.5,-3.8M528.9,234.8l-7.5,-3.8M530.5,233.7l-7.5,-3.8M532.9,232.4l-7.5,-3.8M535.1,231.8l-7.5,-3.8M538.5,231.3l-7.5,-3.8M542.6,231.1l-7.5,-3.8M545.4,231.1l-7.5,-3.8M549.4,230.4l-7.5,-3.8M553.6,228.7l-7.6,-3.8M557.7,227.5l-7.6,-3.8M560.2,226.9l-7.6,-3.8M562.4,226.5l-7.6,-3.8M564.6,226.1l-7.6,-3.8M566.7,225.7l-7.6,-3.8M568.8,225.2l-7.6,-3.8M572.1,224.6l-7.6,-3.8M576,223.8l-7.6,-3.8M579.8,223l-7.7,-3.8M582.6,222.5l-7.7,-3.8M585.9,221.7l-7.7,-3.8M589.6,220.8l-7.7,-3.8M591.4,220.3l-7.7,-3.8M594.7,221l-7.7,-3.8M598.7,222.6l-7.7,-3.8M602.3,223.9l-7.7,-3.8M605.9,225.2l-7.8,-3.8M608.7,226.4l-7.8,-3.8M610.8,227.3l-7.8,-3.8M614.5,228.9l-7.8,-3.7M616.9,229.8l-7.8,-3.7M620.6,230.5l-7.8,-3.7M624.7,231l-7.8,-3.7M627.4,231.3l-7.8,-3.7M630,231.6l-7.8,-3.7M634.1,232.2l-7.9,-3.7M637.5,231.6l-7.9,-3.7M639.6,230.4l-7.9,-3.7M641.5,229.1l-7.9,-3.7M643.5,227.4l-7.9,-3.7M647.5,224.9l-7.9,-3.7M651.2,222.9l-7.9,-3.7M653.1,222.2l-7.9,-3.7M656.9,221.1l-7.9,-3.7M661,220.1l-8,-3.7M664.3,219.5l-8,-3.7M666.9,218.9l-8,-3.7M669.9,218.1l-8,-3.7M671.8,217.6l-8,-3.7M673.5,217.2l-8,-3.7M677.6,216.2l-8,-3.7M680.9,215.7l-8,-3.7M683.8,215.3l-8,-3.7M687.9,215l-8.1,-3.7M690.6,214.7l-8.1,-3.7M694.5,215l-8.1,-3.7M698.2,216.2l-8.1,-3.7M700.4,217l-8.1,-3.7M702.6,217.9l-8.1,-3.7M705,218.6l-8.1,-3.7M707.2,218.7l-8.1,-3.7M710.3,216.8l-8.1,-3.7M712.6,215.6l-8.2,-3.7M715.3,214.1l-8.2,-3.7M717.2,213.1l-8.2,-3.7M721.2,211.3l-8.2,-3.6M723.7,210.5l-8.2,-3.6M726.5,210.7l-8.2,-3.6M729.6,211.3l-8.2,-3.6M733.6,212.8l-8.2,-3.6M736.3,213.8l-8.2,-3.6M740.3,215l-8.3,-3.6M743.2,214.9l-8.3,-3.6M746.1,213.8l-8.3,-3.6M749.1,212.2l-8.3,-3.6M750.8,211.8l-8.3,-3.6M753.5,211.1l-8.3,-3.6M755.6,210.6l-8.3,-3.6M757.2,210.2l-8.3,-3.6M760.9,208.8l-8.3,-3.6M762.9,208l-8.3,-3.6M765.7,206.9l-8.3,-3.6M769.2,205.5l-8.4,-3.6M772.3,204.5l-8.4,-3.6M774.7,203.8l-8.4,-3.6M777.7,202.5l-8.4,-3.6M780.7,201.1l-8.4,-3.6M784.4,199.8l-8.4,-3.6M786.2,199.2l-8.4,-3.6M789.3,198.4l-8.4,-3.6M791.5,197.8l-8.4,-3.6M793.9,197.3l-8.5,-3.6M797.5,196.4l-8.5,-3.6M800.4,195.6l-8.5,-3.6M803.4,194.8l-8.5,-3.6M807,193.8l-8.5,-3.6M811,192l-8.5,-3.6M813.7,190.1l-8.5,-3.6M816.9,188.5l-8.5,-3.6M819.8,187.2l-8.6,-3.6M822.8,185.8l-8.6,-3.6M826.2,184.3l-8.6,-3.6M829,184.3l-8.6,-3.5M831.9,184.7l-8.6,-3.5M834.8,185l-8.6,-3.5M838.8,185.7l-8.6,-3.5M842.3,186.4l-8.6,-3.5M846.1,187.4l-8.6,-3.5M850.2,188.5l-8.7,-3.5M852.5,189.1l-8.7,-3.5M855.5,190l-8.7,-3.5M859.6,190.9l-8.7,-3.5M863.3,191.6l-8.7,-3.5M865.3,191.6l-8.7,-3.5M867.2,191.7l-8.7,-3.5M870,191.7l-8.7,-3.5M871.8,191.5l-8.7,-3.5M874,191.3l-8.8,-3.5M875.8,191.2l-8.8,-3.5M879.1,191.4l-8.8,-3.5M882.8,191.6l-8.8,-3.5M886.7,192l-8.8,-3.6M888.7,192.2l-8.8,-3.6M892.1,192.6l-8.8,-3.6M895.5,192.6l-8.8,-3.6M897.4,192.4l-8.8,-3.7M901.3,192l-8.9,-3.7M905.4,191.7l-8.9,-3.7M907.6,191.6l-8.9,-3.8M911.7,191.6l-8.9,-3.8M914.3,191.6l-8.9,-3.8M917.2,191.6l-8.9,-3.9M921.4,191.6l-8.9,-3.9M925.1,191.4l-8.9,-3.9M927.2,191.3l-8.9,-4M929.9,191.3l-9,-4M932.8,191.3l-9,-4M935.3,191.2l-9,-4M937.4,191.1l-9,-4.1M939.8,190.9l-9,-4.1M943.3,190.7l-9,-4.1M945,190.6l-9,-4.1M948,190.4l-9,-4.2M950.8,190.1l-9,-4.2M952.4,190l-9,-4.2M954.9,189.9l-9.1,-4.2M958.1,189.7l-9.1,-4.2M961,189.4l-9.1,-4.3M962.8,189.2l-9.1,-4.3M966.9,188.9l-9.1,-4.3M970.6,188.6l-9.1,-4.4M974.7,188.1l-9.1,-4.4M976.6,187.9l-9.1,-4.4M978.9,187.7l-9.1,-4.4M980.6,187.5l-9.1,-4.5M984.2,187.1l-9.2,-4.5M986.5,186.8l-9.2,-4.5M988.5,186.6l-9.2,-4.5M991.1,186.4l-9.2,-4.6" stroke="#000" stroke-opacity="0.08" stroke-width="0.6" fill="none"/>
<g id="base">
<polygon fill="#c6c6c6" points="25,317.9 50,315.1 80,311 110,306.5 141,302.1 141.4,302.1 141.4,305.9 141,305.9 110,310.4 80,314.9 50,319.1 25,321.9"/>
<polygon fill="#e2e2e2" points="25,317.9 50,315.1 80,311 110,306.5 141,302.1 141.4,302.1 141.4,304.8 141,304.9 110,309.3 80,313.8 50,318 25,320.8"/>
<polygon fill="#f3f3f3" points="25,317.9 50,315.1 80,311 110,306.5 141,302.1 141.4,302.1 141.4,303.6 141,303.7 110,308.1 80,312.5 50,316.7 25,319.5"/>
<polygon fill="#333" points="141,302.1 200,294 251.4,287.1 251.4,290.7 200,297.7 141,305.9"/>
<polygon fill="#c6c6c6" points="251,287.1 357.4,272.7 357.4,276.2 251,290.8"/>
<polygon fill="#e2e2e2" points="251,287.1 357.4,272.7 357.4,275.2 251,289.7"/>
<polygon fill="#f3f3f3" points="251,287.1 357.4,272.7 357.4,274.1 251,288.6"/>
<polygon fill="#333" points="357,272.8 459.4,258.9 459.4,262.3 357,276.3"/>
<polygon fill="#c6c6c6" points="459,259 556.4,245.8 556.4,249 459,262.3"/>
<polygon fill="#e2e2e2" points="459,259 556.4,245.8 556.4,248.1 459,261.4"/>
<polygon fill="#f3f3f3" points="459,259 556.4,245.8 556.4,247.1 459,260.3"/>
<polygon fill="#333" points="556,245.9 649.4,233.3 649.4,236.3 556,249.1"/>
<polygon fill="#c6c6c6" points="649,233.3 739.4,221.1 739.4,224 649,236.4"/>
<polygon fill="#e2e2e2" points="649,233.3 739.4,221.1 739.4,223.2 649,235.5"/>
<polygon fill="#f3f3f3" points="649,233.3 739.4,221.1 739.4,222.3 649,234.5"/>
<polygon fill="#333" points="739,221.2 825.4,209.5 825.4,212.2 739,224.1"/>
<polygon fill="#c6c6c6" points="825,209.5 908.4,198.3 908.4,200.9 825,212.3"/>
<polygon fill="#e2e2e2" points="825,209.5 908.4,198.3 908.4,200.2 825,211.5"/>
<polygon fill="#f3f3f3" points="825,209.5 908.4,198.3 908.4,199.3 825,210.6"/>
<polygon fill="#333" points="908,198.3 987.4,187.6 987.4,190.1 908,200.9"/>
<polygon fill="#c6c6c6" points="987,187.6 994.8,186.6 994.8,189.1 987,190.1"/>
<polygon fill="#e2e2e2" points="987,187.6 994.8,186.6 994.8,188.4 987,189.4"/>
<polygon fill="#f3f3f3" points="987,187.6 994.8,186.6 994.8,187.6 987,188.6"/>
</g>
<polygon fill="url(#cap)" points="19.4,308.8 25,312.6 25,321.9 20.3,317.5"/>
<g font-family="'DejaVu Sans','Liberation Sans',sans-serif" font-size="10.1" letter-spacing="0.2" fill="#0a0a0a" stroke="#0a0a0a" stroke-width="0.15" text-anchor="middle">
<text x="24.3" y="336.8">0km</text>
<text x="140.5" y="321">10km</text>
<text x="251.3" y="306">20km</text>
<text x="357.1" y="292">30km</text>
<text x="458.5" y="278">40km</text>
<text x="555.6" y="264">50km</text>
<text x="649.1" y="252">60km</text>
<text x="738.6" y="239">70km</text>
<text x="824.5" y="228">80km</text>
<text x="907.4" y="216">90km</text>
<text x="987" y="204.8">100km</text>
</g>
<rect x="1002.2" y="375" width="12.8" height="127.6" fill="url(#leg)"/>
<g font-family="'Liberation Sans',sans-serif" font-size="12.8" fill="#0a0a0a" stroke="#0a0a0a" stroke-width="0.15" text-anchor="end">
<text x="996.8" y="379.2">25%</text>
<text x="996.8" y="416.7">10%</text>
<text x="996.8" y="442.9">0%</text>
<text x="996.8" y="468.9">-10%</text>
<text x="996.8" y="507">-25%</text>
</g>
<g font-family="'Liberation Sans',sans-serif" font-weight="bold" font-size="61" stroke-width="2.6" stroke-linejoin="round" transform="translate(0 501.9) scale(1 0.955) translate(0 -501.9)">
<text y="500.5" x="6.1 34.9 66.5 79.8" fill="#000" stroke="#000">velo</text>
<text y="500.5" x="108.5 140.5 153.1 187 234.9 262" fill="#ff0a3c" stroke="#ff0a3c">viewer</text>
</g>
<text x="305.6" y="475.7" font-family="'Liberation Sans',sans-serif" font-size="9.5" letter-spacing="0.42" fill="#959595" stroke="#959595" stroke-width="0.25">POWERED BY</text>
<text x="305.4" y="502" font-family="'Liberation Sans',sans-serif" font-weight="bold" font-size="26.5" fill="#fc4c02" stroke="#fc4c02" stroke-width="1.3" textLength="102.8" lengthAdjust="spacingAndGlyphs">STRAVA</text>
</svg>
</body></html>
